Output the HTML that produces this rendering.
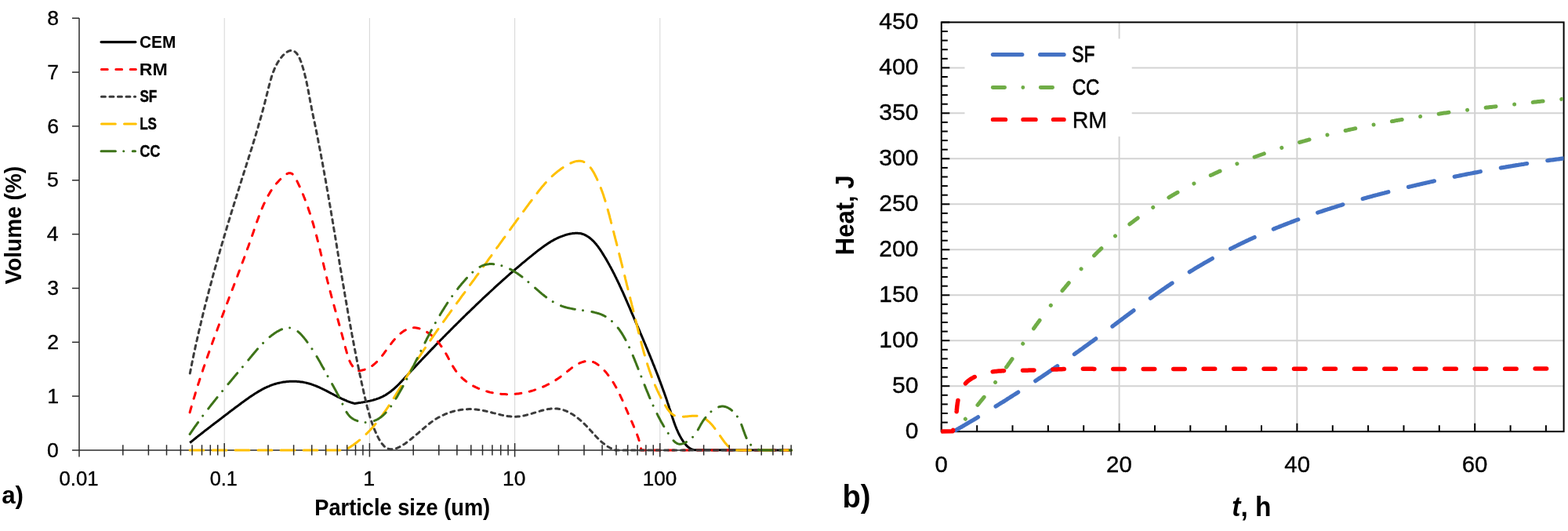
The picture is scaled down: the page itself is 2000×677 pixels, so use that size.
<!DOCTYPE html>
<html><head><meta charset="utf-8"><title>Particle size distribution and heat</title>
<style>
html,body{margin:0;padding:0;background:#fff;}
body{width:2000px;height:677px;overflow:hidden;}
svg{display:block;}
text{font-family:"Liberation Sans",Arial,sans-serif;fill:#000;}
.t1{font-size:23.5px;}
.t2{font-size:28.8px;}
.tb{font-weight:bold;}
</style></head>
<body>
<svg width="2000" height="677" viewBox="0 0 2000 677">
<rect x="0" y="0" width="2000" height="677" fill="#ffffff"/>
<g id="chart-a">
<line x1="286.2" y1="22.9" x2="286.2" y2="574.0" stroke="#d9d9d9" stroke-width="1.1"/>
<line x1="471.4" y1="22.9" x2="471.4" y2="574.0" stroke="#d9d9d9" stroke-width="1.1"/>
<line x1="656.6" y1="22.9" x2="656.6" y2="574.0" stroke="#d9d9d9" stroke-width="1.1"/>
<line x1="841.8" y1="22.9" x2="841.8" y2="574.0" stroke="#d9d9d9" stroke-width="1.1"/>
<line x1="101.0" y1="22.9" x2="101.0" y2="582.5" stroke="#2b2b2b" stroke-width="1.5"/>
<line x1="101.0" y1="574.0" x2="1009.5" y2="574.0" stroke="#2b2b2b" stroke-width="1.5"/>
<line x1="92" y1="574.0" x2="101.0" y2="574.0" stroke="#2b2b2b" stroke-width="1.5"/>
<line x1="92" y1="505.1" x2="101.0" y2="505.1" stroke="#2b2b2b" stroke-width="1.5"/>
<line x1="92" y1="436.3" x2="101.0" y2="436.3" stroke="#2b2b2b" stroke-width="1.5"/>
<line x1="92" y1="367.5" x2="101.0" y2="367.5" stroke="#2b2b2b" stroke-width="1.5"/>
<line x1="92" y1="298.6" x2="101.0" y2="298.6" stroke="#2b2b2b" stroke-width="1.5"/>
<line x1="92" y1="229.8" x2="101.0" y2="229.8" stroke="#2b2b2b" stroke-width="1.5"/>
<line x1="92" y1="160.9" x2="101.0" y2="160.9" stroke="#2b2b2b" stroke-width="1.5"/>
<line x1="92" y1="92.1" x2="101.0" y2="92.1" stroke="#2b2b2b" stroke-width="1.5"/>
<line x1="92" y1="23.2" x2="101.0" y2="23.2" stroke="#2b2b2b" stroke-width="1.5"/>
<path d="M242.2 564.5L243.4 563.5L244.6 562.6L245.8 561.6L247.0 560.7L248.2 559.7L249.4 558.8L250.5 557.8L251.7 556.9L252.9 555.9L254.1 555.0L255.3 554.1L256.5 553.1L257.7 552.2L258.9 551.3L260.0 550.4L261.2 549.4L262.4 548.5L263.6 547.6L264.8 546.7L266.0 545.8L267.2 544.9L268.4 544.0L269.5 543.0L270.7 542.1L271.9 541.2L273.1 540.3L274.3 539.4L275.5 538.5L276.7 537.6L277.9 536.7L279.1 535.8L280.2 534.9L281.4 534.0L282.6 533.1L283.8 532.1L285.0 531.2L286.2 530.3L287.4 529.4L288.6 528.5L289.8 527.6L291.0 526.7L292.2 525.7L293.4 524.8L294.6 523.9L295.8 523.0L297.1 522.1L298.3 521.2L299.5 520.2L300.7 519.3L301.9 518.4L303.2 517.5L304.4 516.6L305.6 515.7L306.9 514.7L308.1 513.8L309.3 512.9L310.6 512.0L311.8 511.1L313.1 510.2L314.3 509.3L315.6 508.4L316.9 507.5L318.1 506.6L319.4 505.7L320.7 504.9L322.0 504.0L323.3 503.2L324.6 502.3L325.9 501.5L327.2 500.7L328.5 499.9L329.8 499.1L331.1 498.3L332.5 497.6L333.8 496.8L335.1 496.1L336.5 495.4L337.9 494.7L339.2 494.1L340.6 493.4L342.0 492.8L343.3 492.3L344.7 491.7L346.1 491.2L347.5 490.7L348.9 490.2L350.4 489.7L351.8 489.3L353.2 488.9L354.6 488.5L356.1 488.2L357.5 487.9L359.0 487.6L360.4 487.3L361.9 487.1L363.3 486.9L364.8 486.7L366.2 486.5L367.7 486.4L369.2 486.3L370.6 486.2L372.1 486.2L373.6 486.2L375.0 486.2L376.5 486.2L378.0 486.3L379.4 486.4L380.9 486.5L382.4 486.7L383.8 486.9L385.3 487.1L386.8 487.3L388.2 487.6L389.7 487.9L391.1 488.2L392.6 488.6L394.0 489.0L395.4 489.4L396.9 489.8L398.3 490.3L399.7 490.8L401.1 491.4L402.6 491.9L404.0 492.5L405.4 493.1L406.8 493.7L408.2 494.3L409.6 495.0L411.0 495.7L412.4 496.3L413.8 497.0L415.1 497.7L416.5 498.4L417.9 499.1L419.3 499.8L420.7 500.6L422.1 501.3L423.4 502.0L424.8 502.7L426.2 503.5L427.6 504.2L428.9 504.9L430.3 505.6L431.7 506.3L433.1 506.9L434.5 507.6L435.8 508.3L437.2 508.9L438.6 509.5L440.0 510.1L441.4 510.7L442.7 511.3L444.1 511.8L445.5 512.3L446.9 512.8L448.3 513.3L449.7 513.7L451.1 514.1L452.5 514.5L453.9 514.3L455.4 514.1L456.8 513.8L458.3 513.6L459.8 513.4L461.3 513.1L462.8 512.9L464.3 512.6L465.8 512.3L467.3 512.1L468.8 511.8L470.3 511.4L471.8 511.1L473.3 510.7L474.8 510.4L476.3 510.0L477.8 509.5L479.3 509.1L480.7 508.6L482.1 508.1L483.6 507.6L485.0 507.0L486.3 506.4L487.7 505.8L489.0 505.1L490.3 504.4L491.6 503.7L492.9 502.9L494.1 502.1L495.3 501.3L496.5 500.4L497.7 499.6L498.9 498.7L500.0 497.7L501.2 496.8L502.3 495.8L503.4 494.8L504.5 493.8L505.6 492.8L506.7 491.8L507.8 490.7L508.8 489.7L509.9 488.6L510.9 487.5L512.0 486.4L513.0 485.3L514.0 484.2L515.1 483.1L516.1 482.0L517.1 480.9L518.1 479.8L519.2 478.7L520.2 477.6L521.2 476.5L522.2 475.4L523.3 474.2L524.3 473.1L525.3 472.0L526.4 470.9L527.4 469.8L528.4 468.7L529.5 467.6L530.5 466.5L531.5 465.4L532.6 464.3L533.6 463.2L534.6 462.1L535.7 461.0L536.7 459.9L537.7 458.8L538.8 457.7L539.8 456.6L540.9 455.5L541.9 454.4L542.9 453.3L544.0 452.3L545.0 451.2L546.1 450.1L547.1 449.0L548.2 447.9L549.2 446.8L550.2 445.7L551.3 444.6L552.3 443.6L553.4 442.5L554.4 441.4L555.5 440.3L556.5 439.2L557.6 438.2L558.6 437.1L559.7 436.0L560.7 434.9L561.8 433.8L562.8 432.8L563.9 431.7L565.0 430.6L566.0 429.5L567.1 428.5L568.1 427.4L569.2 426.3L570.2 425.3L571.3 424.2L572.4 423.1L573.4 422.1L574.5 421.0L575.5 419.9L576.6 418.9L577.7 417.8L578.7 416.7L579.8 415.7L580.9 414.6L581.9 413.6L583.0 412.5L584.1 411.5L585.1 410.4L586.2 409.3L587.3 408.3L588.3 407.2L589.4 406.2L590.5 405.1L591.5 404.1L592.6 403.0L593.7 402.0L594.8 400.9L595.8 399.9L596.9 398.8L598.0 397.8L599.1 396.8L600.2 395.7L601.2 394.7L602.3 393.6L603.4 392.6L604.5 391.6L605.6 390.5L606.6 389.5L607.7 388.4L608.8 387.4L609.9 386.4L611.0 385.3L612.1 384.3L613.1 383.3L614.2 382.3L615.3 381.2L616.4 380.2L617.5 379.2L618.6 378.1L619.7 377.1L620.8 376.1L621.9 375.1L623.0 374.1L624.1 373.0L625.2 372.0L626.3 371.0L627.4 370.0L628.5 369.0L629.6 368.0L630.7 366.9L631.8 365.9L632.9 364.9L634.0 363.9L635.1 362.9L636.2 361.9L637.4 360.9L638.5 359.9L639.6 358.9L640.7 357.9L641.8 356.9L642.9 355.9L644.1 354.9L645.2 353.9L646.3 352.9L647.4 351.9L648.6 350.9L649.7 349.9L650.8 348.9L652.0 347.9L653.1 347.0L654.2 346.0L655.4 345.0L656.5 344.0L657.7 343.0L658.8 342.0L660.0 341.1L661.1 340.1L662.3 339.1L663.4 338.1L664.6 337.2L665.7 336.2L666.9 335.2L668.0 334.3L669.2 333.3L670.4 332.3L671.5 331.4L672.7 330.4L673.9 329.4L675.1 328.5L676.2 327.5L677.4 326.6L678.6 325.6L679.8 324.7L681.0 323.7L682.1 322.8L683.3 321.8L684.5 320.9L685.7 319.9L686.9 319.0L688.1 318.1L689.3 317.2L690.6 316.3L691.8 315.4L693.0 314.5L694.2 313.6L695.5 312.7L696.7 311.9L698.0 311.0L699.2 310.2L700.5 309.4L701.8 308.6L703.0 307.8L704.3 307.1L705.6 306.4L706.9 305.6L708.2 304.9L709.6 304.3L710.9 303.6L712.3 303.0L713.6 302.4L715.0 301.8L716.4 301.3L717.8 300.8L719.2 300.3L720.6 299.8L722.0 299.4L723.4 299.0L724.9 298.6L726.4 298.3L727.8 298.0L729.3 297.8L730.8 297.5L732.3 297.4L733.8 297.3L735.3 297.2L736.8 297.3L738.3 297.4L739.7 297.6L741.2 297.8L742.6 298.2L743.9 298.6L745.3 299.2L746.6 299.8L747.9 300.4L749.1 301.2L750.4 302.0L751.5 302.8L752.7 303.7L753.8 304.7L754.9 305.6L756.0 306.7L757.1 307.7L758.1 308.8L759.1 309.9L760.1 311.0L761.0 312.2L762.0 313.4L762.9 314.6L763.8 315.9L764.7 317.1L765.6 318.4L766.4 319.7L767.3 321.0L768.1 322.3L768.9 323.6L769.7 324.9L770.5 326.2L771.3 327.5L772.1 328.8L772.9 330.1L773.7 331.5L774.4 332.8L775.2 334.1L775.9 335.4L776.7 336.8L777.4 338.1L778.1 339.4L778.9 340.8L779.6 342.1L780.3 343.5L781.0 344.8L781.7 346.1L782.4 347.5L783.1 348.8L783.8 350.2L784.4 351.5L785.1 352.9L785.8 354.2L786.4 355.6L787.1 356.9L787.7 358.3L788.4 359.6L789.0 361.0L789.7 362.3L790.3 363.7L790.9 365.1L791.6 366.4L792.2 367.8L792.8 369.2L793.4 370.5L794.1 371.9L794.7 373.2L795.3 374.6L795.9 376.0L796.5 377.3L797.1 378.7L797.7 380.1L798.3 381.5L798.9 382.8L799.5 384.2L800.1 385.6L800.7 386.9L801.3 388.3L801.9 389.7L802.5 391.1L803.1 392.4L803.7 393.8L804.2 395.2L804.8 396.5L805.4 397.9L806.0 399.3L806.6 400.7L807.2 402.0L807.8 403.4L808.4 404.8L809.0 406.2L809.6 407.5L810.2 408.9L810.7 410.3L811.3 411.7L811.9 413.0L812.5 414.4L813.1 415.8L813.7 417.2L814.3 418.6L814.9 419.9L815.5 421.3L816.1 422.7L816.6 424.1L817.2 425.5L817.8 426.8L818.4 428.2L819.0 429.6L819.6 431.0L820.2 432.4L820.7 433.7L821.3 435.1L821.9 436.5L822.5 437.9L823.1 439.3L823.7 440.7L824.2 442.0L824.8 443.4L825.4 444.8L826.0 446.2L826.5 447.6L827.1 449.0L827.7 450.4L828.3 451.8L828.8 453.2L829.4 454.5L830.0 455.9L830.5 457.3L831.1 458.7L831.7 460.1L832.2 461.5L832.8 462.9L833.3 464.3L833.9 465.7L834.5 467.1L835.0 468.5L835.6 469.9L836.1 471.3L836.7 472.7L837.2 474.1L837.8 475.5L838.3 476.9L838.9 478.3L839.4 479.8L839.9 481.2L840.5 482.6L841.0 484.0L841.5 485.4L842.1 486.8L842.6 488.2L843.1 489.6L843.7 491.1L844.2 492.5L844.7 493.9L845.2 495.3L845.7 496.7L846.2 498.2L846.8 499.6L847.3 501.0L847.8 502.4L848.3 503.9L848.8 505.3L849.3 506.7L849.8 508.1L850.3 509.6L850.8 511.0L851.2 512.4L851.7 513.9L852.2 515.3L852.7 516.8L853.2 518.2L853.6 519.6L854.1 521.1L854.6 522.5L855.1 524.0L855.5 525.4L856.0 526.9L856.4 528.3L856.9 529.8L857.4 531.2L857.8 532.7L858.3 534.1L858.8 535.5L859.3 537.0L859.8 538.4L860.3 539.8L860.8 541.2L861.3 542.6L861.9 544.0L862.4 545.4L863.0 546.8L863.6 548.1L864.2 549.5L864.8 550.9L865.4 552.2L866.1 553.5L866.7 554.8L867.4 556.1L868.1 557.4L868.9 558.7L869.6 559.9L870.4 561.2L871.2 562.4L872.1 563.6L873.0 564.8L873.9 565.9L874.8 567.1L875.8 568.1L876.8 569.1L877.9 570.1L879.1 570.9L880.3 571.7L881.6 572.4L882.9 572.9L884.4 573.4L885.9 573.7L887.6 573.8L889.3 573.8L1009.5 574.0" fill="none" stroke="#000000" stroke-width="3.0" stroke-linecap="butt" stroke-linejoin="round"/>
<path d="M242.1 525.9L242.5 524.4L242.9 523.0L243.3 521.5L243.7 520.0L244.2 518.5L244.6 517.1L245.0 515.6L245.4 514.2L245.9 512.7L246.3 511.2L246.7 509.8L247.1 508.3L247.6 506.9L248.0 505.4L248.5 504.0L248.9 502.5L249.3 501.1L249.8 499.6L250.2 498.2L250.7 496.7L251.1 495.3L251.6 493.8L252.0 492.4L252.5 491.0L252.9 489.5L253.4 488.1L253.9 486.7L254.3 485.2L254.8 483.8L255.2 482.4L255.7 480.9L256.2 479.5L256.7 478.1L257.1 476.6L257.6 475.2L258.1 473.8L258.6 472.4L259.0 470.9L259.5 469.5L260.0 468.1L260.5 466.7L261.0 465.2L261.4 463.8L261.9 462.4L262.4 461.0L262.9 459.6L263.4 458.2L263.9 456.7L264.4 455.3L264.9 453.9L265.4 452.5L265.9 451.1L266.4 449.7L266.9 448.3L267.4 446.9L267.9 445.5L268.4 444.1L268.9 442.6L269.4 441.2L269.9 439.8L270.4 438.4L270.9 437.0L271.4 435.6L271.9 434.2L272.4 432.8L272.9 431.4L273.5 430.0L274.0 428.6L274.5 427.2L275.0 425.8L275.5 424.4L276.0 423.0L276.6 421.6L277.1 420.2L277.6 418.8L278.1 417.4L278.6 416.0L279.2 414.6L279.7 413.2L280.2 411.8L280.7 410.4L281.2 409.0L281.8 407.6L282.3 406.2L282.8 404.8L283.3 403.4L283.9 402.0L284.4 400.6L284.9 399.2L285.5 397.8L286.0 396.4L286.5 395.0L287.0 393.6L287.6 392.2L288.1 390.8L288.6 389.4L289.2 388.0L289.7 386.6L290.2 385.2L290.7 383.8L291.3 382.4L291.8 381.0L292.3 379.6L292.9 378.2L293.4 376.8L293.9 375.4L294.5 374.0L295.0 372.6L295.5 371.2L296.1 369.8L296.6 368.4L297.1 367.0L297.7 365.6L298.2 364.2L298.7 362.8L299.2 361.4L299.8 360.0L300.3 358.6L300.8 357.2L301.4 355.8L301.9 354.4L302.4 353.0L303.0 351.5L303.5 350.1L304.0 348.7L304.5 347.3L305.1 345.9L305.6 344.5L306.1 343.1L306.7 341.7L307.2 340.2L307.7 338.8L308.2 337.4L308.8 336.0L309.3 334.6L309.8 333.2L310.3 331.7L310.9 330.3L311.4 328.9L311.9 327.5L312.4 326.0L312.9 324.6L313.5 323.2L314.0 321.8L314.5 320.3L315.0 318.9L315.5 317.5L316.0 316.0L316.6 314.6L317.1 313.2L317.6 311.7L318.1 310.3L318.6 308.9L319.1 307.4L319.6 306.0L320.1 304.6L320.7 303.1L321.2 301.7L321.7 300.2L322.2 298.8L322.7 297.3L323.2 295.9L323.7 294.4L324.2 293.0L324.7 291.5L325.2 290.1L325.7 288.6L326.2 287.2L326.7 285.7L327.2 284.3L327.7 282.8L328.2 281.4L328.7 279.9L329.3 278.5L329.8 277.0L330.3 275.6L330.8 274.2L331.4 272.7L331.9 271.3L332.5 269.9L333.1 268.5L333.6 267.1L334.2 265.7L334.8 264.3L335.4 262.9L336.0 261.5L336.6 260.1L337.3 258.8L337.9 257.4L338.6 256.1L339.2 254.7L339.9 253.4L340.6 252.1L341.3 250.7L342.0 249.4L342.8 248.2L343.5 246.9L344.3 245.6L345.0 244.3L345.8 243.1L346.7 241.9L347.5 240.7L348.3 239.4L349.2 238.3L350.1 237.1L351.0 235.9L351.9 234.8L352.9 233.6L353.9 232.5L354.9 231.4L355.9 230.3L356.9 229.3L358.0 228.2L359.0 227.2L360.2 226.1L361.3 225.1L362.4 224.2L363.6 223.2L364.8 222.4L366.0 221.7L367.2 221.1L368.3 220.8L369.5 220.7L370.6 220.8L371.6 221.1L372.7 221.6L373.6 222.4L374.5 223.3L375.3 224.4L376.1 225.6L376.9 227.0L377.6 228.4L378.3 229.8L379.0 231.2L379.7 232.6L380.3 234.0L381.0 235.4L381.7 236.8L382.3 238.2L382.9 239.6L383.6 241.1L384.2 242.5L384.8 243.9L385.4 245.3L386.0 246.7L386.6 248.2L387.2 249.6L387.7 251.0L388.3 252.4L388.9 253.9L389.4 255.3L389.9 256.7L390.5 258.2L391.0 259.6L391.5 261.0L392.0 262.5L392.6 263.9L393.1 265.3L393.5 266.8L394.0 268.2L394.5 269.6L395.0 271.1L395.5 272.5L395.9 274.0L396.4 275.4L396.8 276.9L397.3 278.3L397.7 279.7L398.2 281.2L398.6 282.6L399.0 284.1L399.5 285.5L399.9 287.0L400.3 288.4L400.7 289.9L401.1 291.3L401.5 292.8L401.9 294.2L402.3 295.7L402.7 297.1L403.1 298.6L403.5 300.0L403.9 301.5L404.3 302.9L404.6 304.4L405.0 305.9L405.4 307.3L405.8 308.8L406.1 310.2L406.5 311.7L406.8 313.1L407.2 314.6L407.6 316.0L407.9 317.5L408.3 319.0L408.6 320.4L409.0 321.9L409.3 323.3L409.7 324.8L410.0 326.2L410.4 327.7L410.7 329.2L411.1 330.6L411.4 332.1L411.8 333.5L412.1 335.0L412.5 336.4L412.8 337.9L413.2 339.4L413.5 340.8L413.9 342.3L414.2 343.7L414.5 345.2L414.9 346.6L415.2 348.1L415.6 349.6L416.0 351.0L416.3 352.5L416.7 353.9L417.0 355.4L417.4 356.8L417.7 358.3L418.1 359.7L418.5 361.2L418.8 362.7L419.2 364.1L419.6 365.6L420.0 367.0L420.3 368.5L420.7 369.9L421.1 371.4L421.5 372.8L421.9 374.3L422.2 375.7L422.6 377.2L423.0 378.6L423.4 380.1L423.8 381.5L424.2 383.0L424.6 384.4L425.0 385.9L425.4 387.3L425.8 388.8L426.2 390.2L426.6 391.7L427.0 393.1L427.4 394.6L427.8 396.0L428.2 397.5L428.6 398.9L429.0 400.4L429.4 401.8L429.8 403.3L430.2 404.8L430.6 406.2L431.0 407.7L431.4 409.1L431.8 410.6L432.2 412.0L432.6 413.5L433.0 414.9L433.4 416.4L433.8 417.9L434.2 419.3L434.6 420.8L435.0 422.2L435.4 423.7L435.8 425.2L436.2 426.6L436.6 428.1L437.0 429.6L437.4 431.0L437.8 432.5L438.2 434.0L438.6 435.4L439.0 436.9L439.4 438.4L439.8 439.8L440.1 441.3L440.5 442.8L440.9 444.3L441.3 445.7L441.7 447.2L442.1 448.7L442.5 450.1L442.9 451.6L443.3 453.0L443.8 454.5L444.2 455.9L444.7 457.3L445.3 458.7L445.8 460.0L446.5 461.4L447.1 462.7L447.8 464.0L448.6 465.2L449.4 466.4L450.2 467.6L451.1 468.8L452.1 469.9L453.2 471.0L454.3 472.0L455.5 473.0L457.2 472.8L458.9 472.6L460.5 472.4L462.1 472.0L463.6 471.6L465.1 471.2L466.5 470.7L467.9 470.1L469.3 469.5L470.6 468.9L471.8 468.2L473.0 467.5L474.2 466.7L475.4 465.9L476.5 465.0L477.6 464.1L478.7 463.2L479.7 462.2L480.8 461.2L481.8 460.2L482.8 459.1L483.7 458.0L484.7 456.9L485.6 455.8L486.6 454.6L487.5 453.5L488.4 452.3L489.3 451.1L490.2 449.9L491.1 448.6L492.0 447.4L492.9 446.1L493.8 444.9L494.7 443.6L495.7 442.4L496.6 441.1L497.5 439.8L498.5 438.6L499.5 437.3L500.4 436.1L501.5 434.8L502.5 433.6L503.5 432.4L504.6 431.2L505.7 430.1L506.8 428.9L507.9 427.8L509.0 426.8L510.1 425.7L511.3 424.8L512.5 423.8L513.7 423.0L514.9 422.1L516.1 421.4L517.4 420.7L518.6 420.0L519.9 419.5L521.2 419.0L522.5 418.6L523.8 418.2L525.2 418.0L526.5 417.8L527.9 417.8L529.3 417.8L530.7 417.9L532.1 418.2L533.5 418.5L534.9 418.9L536.3 419.3L537.7 419.8L539.1 420.4L540.5 421.1L541.8 421.8L543.2 422.5L544.4 423.3L545.7 424.1L547.0 424.9L548.2 425.8L549.4 426.8L550.5 427.7L551.7 428.7L552.8 429.8L553.9 430.8L555.0 431.9L556.1 433.0L557.1 434.2L558.1 435.4L559.1 436.5L560.1 437.8L561.1 439.0L562.0 440.3L562.9 441.5L563.8 442.8L564.7 444.1L565.5 445.4L566.4 446.8L567.2 448.1L568.0 449.5L568.8 450.8L569.6 452.2L570.3 453.6L571.1 454.9L571.8 456.3L572.5 457.7L573.3 459.0L574.0 460.4L574.7 461.8L575.5 463.1L576.2 464.5L576.9 465.8L577.7 467.1L578.5 468.4L579.3 469.7L580.1 470.9L580.9 472.1L581.8 473.4L582.7 474.5L583.6 475.7L584.5 476.8L585.5 477.9L586.5 479.0L587.5 480.1L588.6 481.1L589.6 482.1L590.7 483.1L591.8 484.0L593.0 485.0L594.1 485.9L595.3 486.8L596.5 487.6L597.7 488.5L598.9 489.3L600.2 490.1L601.4 490.8L602.7 491.5L604.0 492.3L605.3 492.9L606.6 493.6L608.0 494.2L609.3 494.9L610.7 495.5L612.1 496.0L613.5 496.6L614.9 497.1L616.3 497.6L617.7 498.1L619.1 498.5L620.6 498.9L622.0 499.3L623.5 499.7L624.9 500.1L626.4 500.4L627.9 500.7L629.3 501.0L630.8 501.3L632.3 501.5L633.8 501.7L635.3 501.9L636.8 502.1L638.3 502.3L639.8 502.4L641.3 502.5L642.8 502.6L644.3 502.6L645.8 502.7L647.3 502.7L648.8 502.7L650.3 502.7L651.8 502.6L653.3 502.6L654.8 502.5L656.3 502.4L657.8 502.3L659.3 502.1L660.8 501.9L662.3 501.7L663.7 501.5L665.2 501.3L666.7 501.0L668.2 500.8L669.7 500.5L671.2 500.2L672.6 499.8L674.1 499.5L675.6 499.1L677.0 498.7L678.5 498.3L679.9 497.9L681.4 497.4L682.8 496.9L684.3 496.5L685.7 495.9L687.1 495.4L688.6 494.9L690.0 494.3L691.4 493.7L692.8 493.1L694.2 492.5L695.6 491.9L696.9 491.2L698.3 490.5L699.7 489.8L701.0 489.1L702.4 488.4L703.7 487.6L705.1 486.9L706.4 486.1L707.7 485.3L709.0 484.5L710.3 483.6L711.6 482.8L712.8 481.9L714.1 481.0L715.3 480.1L716.6 479.2L717.8 478.3L719.0 477.3L720.2 476.4L721.4 475.4L722.6 474.4L723.8 473.4L725.0 472.5L726.2 471.5L727.4 470.6L728.6 469.6L729.8 468.7L731.1 467.8L732.3 466.9L733.6 466.1L734.8 465.3L736.1 464.6L737.4 463.9L738.8 463.2L740.1 462.6L741.5 462.1L742.9 461.6L744.3 461.2L745.7 460.8L747.2 460.6L748.6 460.4L750.0 460.4L751.4 460.4L752.7 460.5L754.1 460.8L755.4 461.1L756.7 461.5L758.0 462.1L759.3 462.7L760.5 463.4L761.7 464.2L762.9 465.1L764.1 466.0L765.2 466.9L766.3 467.9L767.4 468.9L768.5 469.9L769.5 471.0L770.6 472.1L771.6 473.2L772.6 474.3L773.5 475.4L774.5 476.6L775.4 477.8L776.3 479.0L777.2 480.2L778.1 481.4L779.0 482.6L779.8 483.9L780.7 485.1L781.5 486.4L782.3 487.7L783.1 489.0L783.8 490.3L784.6 491.7L785.4 493.0L786.1 494.3L786.8 495.7L787.5 497.1L788.2 498.4L788.9 499.8L789.6 501.2L790.3 502.6L791.0 504.0L791.6 505.4L792.3 506.8L792.9 508.2L793.6 509.6L794.2 511.0L794.8 512.4L795.4 513.8L796.1 515.2L796.7 516.6L797.3 518.1L797.9 519.5L798.5 520.9L799.1 522.3L799.7 523.7L800.3 525.1L800.9 526.5L801.5 527.9L802.1 529.2L802.7 530.6L803.3 532.0L803.9 533.3L804.5 534.7L805.1 536.0L805.7 537.4L806.3 538.7L806.9 540.1L807.4 541.4L808.0 542.7L808.6 544.1L809.2 545.4L809.7 546.7L810.3 548.1L810.9 549.4L811.4 550.8L811.9 552.2L812.4 553.5L812.9 554.9L813.4 556.3L813.9 557.7L814.4 559.1L814.8 560.5L815.3 561.9L815.7 563.4L816.1 564.9L816.4 566.3L816.8 567.8L817.1 569.3L817.4 570.9L817.7 572.4L818.0 574.0L1009.5 574.0" fill="none" stroke="#ff0000" stroke-width="3.0" stroke-linecap="round" stroke-linejoin="round" stroke-dasharray="7.8 10.6"/>
<path d="M242.3 476.0L242.6 474.5L242.9 473.1L243.2 471.6L243.4 470.2L243.7 468.7L244.0 467.2L244.3 465.8L244.6 464.3L244.9 462.8L245.2 461.4L245.5 459.9L245.8 458.5L246.1 457.0L246.4 455.5L246.7 454.1L247.0 452.6L247.3 451.1L247.6 449.7L248.0 448.2L248.3 446.8L248.6 445.3L248.9 443.8L249.2 442.4L249.5 440.9L249.9 439.4L250.2 438.0L250.5 436.5L250.8 435.0L251.2 433.6L251.5 432.1L251.8 430.7L252.2 429.2L252.5 427.7L252.8 426.3L253.2 424.8L253.5 423.3L253.8 421.9L254.2 420.4L254.5 419.0L254.9 417.5L255.2 416.0L255.6 414.6L255.9 413.1L256.3 411.6L256.6 410.2L257.0 408.7L257.3 407.3L257.7 405.8L258.0 404.3L258.4 402.9L258.7 401.4L259.1 399.9L259.5 398.5L259.8 397.0L260.2 395.6L260.5 394.1L260.9 392.6L261.3 391.2L261.6 389.7L262.0 388.3L262.4 386.8L262.8 385.3L263.1 383.9L263.5 382.4L263.9 380.9L264.3 379.5L264.6 378.0L265.0 376.6L265.4 375.1L265.8 373.7L266.2 372.2L266.5 370.7L266.9 369.3L267.3 367.8L267.7 366.4L268.1 364.9L268.5 363.4L268.9 362.0L269.3 360.5L269.7 359.1L270.0 357.6L270.4 356.2L270.8 354.7L271.2 353.2L271.6 351.8L272.0 350.3L272.4 348.9L272.8 347.4L273.2 346.0L273.6 344.5L274.0 343.1L274.4 341.6L274.8 340.2L275.3 338.7L275.7 337.2L276.1 335.8L276.5 334.3L276.9 332.9L277.3 331.4L277.7 330.0L278.1 328.5L278.5 327.1L278.9 325.6L279.4 324.2L279.8 322.7L280.2 321.3L280.6 319.8L281.0 318.4L281.4 316.9L281.9 315.5L282.3 314.0L282.7 312.6L283.1 311.2L283.5 309.7L284.0 308.3L284.4 306.8L284.8 305.4L285.2 303.9L285.7 302.5L286.1 301.0L286.5 299.6L287.0 298.2L287.4 296.7L287.8 295.3L288.2 293.8L288.7 292.4L289.1 291.0L289.5 289.5L290.0 288.1L290.4 286.6L290.8 285.2L291.3 283.8L291.7 282.3L292.1 280.9L292.6 279.4L293.0 278.0L293.5 276.6L293.9 275.1L294.3 273.7L294.8 272.3L295.2 270.8L295.6 269.4L296.1 268.0L296.5 266.5L297.0 265.1L297.4 263.7L297.9 262.2L298.3 260.8L298.7 259.4L299.2 258.0L299.6 256.5L300.1 255.1L300.5 253.7L301.0 252.3L301.4 250.8L301.9 249.4L302.3 248.0L302.7 246.6L303.2 245.1L303.6 243.7L304.1 242.3L304.5 240.9L305.0 239.4L305.4 238.0L305.9 236.6L306.3 235.2L306.8 233.8L307.2 232.4L307.7 230.9L308.1 229.5L308.6 228.1L309.0 226.7L309.5 225.3L309.9 223.9L310.4 222.5L310.8 221.0L311.3 219.6L311.7 218.2L312.2 216.8L312.6 215.4L313.1 214.0L313.5 212.6L314.0 211.1L314.4 209.7L314.9 208.3L315.3 206.9L315.8 205.5L316.2 204.1L316.7 202.7L317.1 201.2L317.6 199.8L318.0 198.4L318.5 197.0L318.9 195.6L319.4 194.2L319.8 192.7L320.3 191.3L320.7 189.9L321.2 188.5L321.6 187.0L322.0 185.6L322.5 184.2L322.9 182.8L323.4 181.3L323.8 179.9L324.2 178.5L324.7 177.0L325.1 175.6L325.5 174.2L326.0 172.7L326.4 171.3L326.8 169.9L327.3 168.4L327.7 167.0L328.1 165.5L328.5 164.1L329.0 162.6L329.4 161.2L329.8 159.7L330.2 158.3L330.7 156.8L331.1 155.4L331.5 153.9L331.9 152.5L332.3 151.0L332.7 149.5L333.2 148.1L333.6 146.6L334.0 145.1L334.4 143.6L334.8 142.2L335.2 140.7L335.6 139.2L336.0 137.7L336.4 136.2L336.8 134.7L337.2 133.2L337.6 131.7L338.0 130.2L338.3 128.7L338.7 127.2L339.1 125.7L339.5 124.2L339.9 122.7L340.2 121.1L340.6 119.6L341.0 118.1L341.4 116.6L341.8 115.0L342.1 113.5L342.5 112.0L342.9 110.5L343.3 108.9L343.7 107.4L344.1 105.9L344.5 104.4L344.9 102.9L345.4 101.4L345.8 100.0L346.2 98.5L346.7 97.0L347.2 95.6L347.7 94.2L348.2 92.7L348.7 91.3L349.3 90.0L349.8 88.6L350.4 87.2L351.0 85.9L351.6 84.6L352.2 83.3L352.9 82.0L353.6 80.8L354.3 79.5L355.1 78.3L355.8 77.1L356.6 76.0L357.4 74.9L358.3 73.7L359.2 72.7L360.1 71.6L361.0 70.6L362.0 69.6L363.0 68.7L364.1 67.8L365.1 67.0L366.2 66.2L367.3 65.6L368.4 65.1L369.5 64.7L370.6 64.5L371.7 64.4L372.8 64.5L373.9 64.8L374.9 65.2L375.9 65.7L376.8 66.5L377.7 67.3L378.6 68.3L379.4 69.5L380.2 70.7L381.0 72.0L381.7 73.4L382.4 74.9L383.0 76.5L383.7 78.1L384.3 79.7L384.8 81.4L385.4 83.1L385.9 84.8L386.4 86.4L386.9 88.1L387.4 89.8L387.8 91.4L388.2 93.0L388.7 94.6L389.0 96.1L389.4 97.7L389.8 99.2L390.1 100.7L390.5 102.2L390.8 103.7L391.1 105.1L391.4 106.6L391.7 108.0L392.0 109.4L392.3 110.9L392.6 112.3L392.8 113.7L393.1 115.1L393.4 116.5L393.6 117.9L393.9 119.3L394.1 120.7L394.4 122.1L394.7 123.5L394.9 124.9L395.2 126.3L395.5 127.8L395.7 129.2L396.0 130.6L396.3 132.1L396.6 133.5L396.9 134.9L397.2 136.4L397.4 137.8L397.7 139.3L398.0 140.8L398.3 142.2L398.6 143.7L398.9 145.2L399.2 146.6L399.5 148.1L399.8 149.6L400.1 151.1L400.5 152.5L400.8 154.0L401.1 155.5L401.4 157.0L401.7 158.5L402.0 160.0L402.3 161.4L402.6 162.9L402.9 164.4L403.2 165.9L403.5 167.4L403.8 168.9L404.1 170.4L404.4 171.8L404.7 173.3L405.0 174.8L405.3 176.3L405.6 177.8L405.9 179.3L406.1 180.7L406.4 182.2L406.7 183.7L407.0 185.2L407.3 186.7L407.6 188.2L407.9 189.6L408.2 191.1L408.4 192.6L408.7 194.1L409.0 195.6L409.3 197.1L409.6 198.5L409.8 200.0L410.1 201.5L410.4 203.0L410.7 204.5L411.0 205.9L411.2 207.4L411.5 208.9L411.8 210.4L412.0 211.9L412.3 213.4L412.6 214.8L412.9 216.3L413.1 217.8L413.4 219.3L413.7 220.8L413.9 222.2L414.2 223.7L414.5 225.2L414.7 226.7L415.0 228.2L415.3 229.6L415.5 231.1L415.8 232.6L416.0 234.1L416.3 235.5L416.6 237.0L416.8 238.5L417.1 240.0L417.3 241.5L417.6 242.9L417.9 244.4L418.1 245.9L418.4 247.4L418.6 248.9L418.9 250.3L419.1 251.8L419.4 253.3L419.7 254.8L419.9 256.2L420.2 257.7L420.4 259.2L420.7 260.7L420.9 262.2L421.2 263.6L421.4 265.1L421.7 266.6L421.9 268.1L422.2 269.5L422.4 271.0L422.7 272.5L422.9 274.0L423.2 275.5L423.4 276.9L423.7 278.4L423.9 279.9L424.2 281.4L424.4 282.8L424.7 284.3L424.9 285.8L425.2 287.3L425.4 288.8L425.6 290.2L425.9 291.7L426.1 293.2L426.4 294.7L426.6 296.1L426.9 297.6L427.1 299.1L427.4 300.6L427.6 302.0L427.9 303.5L428.1 305.0L428.3 306.5L428.6 308.0L428.8 309.4L429.1 310.9L429.3 312.4L429.6 313.9L429.8 315.3L430.1 316.8L430.3 318.3L430.5 319.8L430.8 321.3L431.0 322.7L431.3 324.2L431.5 325.7L431.8 327.2L432.0 328.7L432.3 330.1L432.5 331.6L432.8 333.1L433.0 334.6L433.2 336.0L433.5 337.5L433.7 339.0L434.0 340.5L434.2 342.0L434.5 343.4L434.7 344.9L435.0 346.4L435.2 347.9L435.5 349.4L435.7 350.8L436.0 352.3L436.2 353.8L436.5 355.3L436.7 356.8L437.0 358.2L437.2 359.7L437.5 361.2L437.7 362.7L438.0 364.2L438.2 365.6L438.5 367.1L438.7 368.6L439.0 370.1L439.2 371.6L439.5 373.0L439.7 374.5L440.0 376.0L440.2 377.5L440.5 379.0L440.7 380.5L441.0 381.9L441.2 383.4L441.5 384.9L441.8 386.4L442.0 387.9L442.3 389.4L442.5 390.8L442.8 392.3L443.1 393.8L443.3 395.3L443.6 396.8L443.8 398.3L444.1 399.7L444.4 401.2L444.6 402.7L444.9 404.2L445.2 405.7L445.4 407.2L445.7 408.7L446.0 410.1L446.2 411.6L446.5 413.1L446.8 414.6L447.0 416.1L447.3 417.6L447.6 419.0L447.8 420.5L448.1 422.0L448.4 423.5L448.7 425.0L448.9 426.5L449.2 427.9L449.5 429.4L449.8 430.9L450.0 432.4L450.3 433.9L450.6 435.3L450.9 436.8L451.2 438.3L451.4 439.8L451.7 441.3L452.0 442.7L452.3 444.2L452.6 445.7L452.9 447.2L453.2 448.6L453.4 450.1L453.7 451.6L454.0 453.1L454.3 454.5L454.6 456.0L454.9 457.5L455.2 459.0L455.5 460.4L455.8 461.9L456.1 463.4L456.4 464.8L456.7 466.3L457.0 467.8L457.3 469.3L457.6 470.7L457.9 472.2L458.2 473.7L458.5 475.1L458.8 476.6L459.1 478.0L459.4 479.5L459.8 481.0L460.1 482.4L460.4 483.9L460.7 485.3L461.0 486.8L461.3 488.3L461.6 489.7L462.0 491.2L462.3 492.6L462.6 494.1L462.9 495.5L463.3 497.0L463.6 498.4L463.9 499.9L464.2 501.3L464.6 502.8L464.9 504.2L465.2 505.6L465.6 507.1L465.9 508.5L466.2 510.0L466.6 511.4L466.9 512.8L467.3 514.3L467.6 515.7L468.0 517.2L468.3 518.6L468.7 520.0L469.1 521.5L469.5 522.9L469.9 524.3L470.3 525.8L470.7 527.2L471.1 528.7L471.5 530.1L471.9 531.5L472.4 533.0L472.9 534.4L473.3 535.9L473.8 537.3L474.3 538.8L474.8 540.2L475.4 541.7L475.9 543.2L476.5 544.6L477.1 546.1L477.7 547.6L478.3 549.1L478.9 550.5L479.6 552.0L480.3 553.5L481.0 555.0L481.7 556.5L482.4 557.9L483.2 559.4L484.0 560.8L484.8 562.2L485.7 563.5L486.5 564.7L487.4 566.0L488.4 567.1L489.3 568.1L490.3 569.1L491.3 570.0L492.3 570.7L493.4 571.4L494.5 571.9L495.6 572.3L496.8 572.6L498.0 572.7L499.2 572.8L500.4 572.7L501.6 572.6L502.9 572.3L504.2 572.0L505.5 571.6L506.8 571.1L508.1 570.5L509.5 569.9L510.8 569.2L512.1 568.4L513.5 567.6L514.8 566.8L516.2 565.9L517.5 565.0L518.8 564.0L520.1 563.0L521.5 562.0L522.7 561.0L524.0 560.0L525.3 559.0L526.5 557.9L527.8 556.9L529.0 555.9L530.2 554.9L531.4 553.8L532.6 552.8L533.8 551.8L534.9 550.8L536.1 549.8L537.2 548.8L538.4 547.8L539.5 546.8L540.7 545.8L541.8 544.9L543.0 543.9L544.1 543.0L545.2 542.0L546.4 541.1L547.5 540.2L548.7 539.3L549.9 538.4L551.0 537.6L552.2 536.7L553.4 535.9L554.6 535.1L555.8 534.3L557.1 533.5L558.3 532.8L559.6 532.1L560.9 531.4L562.2 530.7L563.5 530.0L564.8 529.4L566.2 528.8L567.5 528.2L568.9 527.6L570.3 527.1L571.7 526.5L573.1 526.1L574.5 525.6L575.9 525.1L577.4 524.7L578.8 524.3L580.3 524.0L581.7 523.6L583.2 523.3L584.7 523.0L586.2 522.8L587.7 522.5L589.2 522.3L590.6 522.1L592.2 522.0L593.7 521.9L595.2 521.8L596.7 521.7L598.2 521.6L599.7 521.6L601.2 521.6L602.7 521.7L604.2 521.8L605.7 521.9L607.2 522.0L608.7 522.2L610.2 522.4L611.7 522.6L613.2 522.8L614.7 523.1L616.2 523.4L617.6 523.7L619.1 524.0L620.6 524.4L622.1 524.7L623.5 525.1L625.0 525.4L626.5 525.8L627.9 526.2L629.4 526.6L630.9 526.9L632.3 527.3L633.8 527.7L635.2 528.1L636.7 528.4L638.2 528.7L639.6 529.1L641.1 529.4L642.5 529.7L644.0 530.0L645.5 530.2L646.9 530.5L648.4 530.7L649.9 530.8L651.3 531.0L652.8 531.1L654.3 531.2L655.7 531.2L657.2 531.2L658.7 531.2L660.2 531.1L661.7 531.0L663.1 530.8L664.6 530.6L666.1 530.4L667.6 530.1L669.1 529.8L670.6 529.4L672.1 529.0L673.6 528.6L675.1 528.2L676.6 527.8L678.1 527.4L679.6 526.9L681.1 526.4L682.6 526.0L684.1 525.5L685.6 525.1L687.1 524.6L688.6 524.2L690.1 523.7L691.6 523.3L693.1 522.9L694.6 522.6L696.0 522.2L697.5 521.9L699.0 521.6L700.5 521.4L701.9 521.2L703.4 521.0L704.8 520.9L706.3 520.9L707.7 520.9L709.2 520.9L710.6 521.0L712.0 521.2L713.4 521.4L714.9 521.7L716.3 522.1L717.7 522.5L719.0 522.9L720.4 523.4L721.8 523.9L723.2 524.5L724.5 525.1L725.8 525.8L727.2 526.5L728.5 527.3L729.8 528.0L731.1 528.8L732.4 529.7L733.6 530.6L734.9 531.5L736.1 532.4L737.4 533.4L738.6 534.4L739.8 535.4L741.0 536.4L742.1 537.4L743.3 538.5L744.4 539.5L745.5 540.6L746.6 541.7L747.7 542.8L748.8 543.9L749.8 545.0L750.9 546.2L751.9 547.3L752.9 548.4L753.9 549.5L754.9 550.6L756.0 551.8L757.0 552.9L758.0 554.0L759.0 555.1L760.0 556.2L761.0 557.2L762.0 558.3L763.1 559.3L764.1 560.4L765.1 561.4L766.2 562.4L767.3 563.4L768.4 564.3L769.5 565.2L770.7 566.1L771.8 567.0L773.0 567.9L774.2 568.7L775.5 569.5L776.8 570.2L778.1 571.0L779.4 571.6L780.8 572.3L782.2 572.9L783.6 573.5L785.1 574.0L1009.5 574.0" fill="none" stroke="#3c3c3c" stroke-width="3.0" stroke-linecap="round" stroke-linejoin="round" stroke-dasharray="5 5.5"/>
<path d="M242.1 574.0L440.0 574.0L441.4 573.2L442.7 572.4L444.0 571.6L445.3 570.8L446.6 570.0L447.9 569.1L449.1 568.3L450.4 567.4L451.6 566.5L452.9 565.6L454.1 564.7L455.3 563.8L456.4 562.9L457.6 561.9L458.8 561.0L459.9 560.0L461.0 559.0L462.2 558.0L463.3 557.0L464.4 556.0L465.5 555.0L466.5 554.0L467.6 552.9L468.7 551.9L469.7 550.8L470.7 549.8L471.8 548.7L472.8 547.6L473.8 546.5L474.8 545.4L475.7 544.3L476.7 543.2L477.7 542.0L478.6 540.9L479.6 539.7L480.5 538.6L481.5 537.4L482.4 536.3L483.3 535.1L484.2 533.9L485.1 532.7L486.0 531.5L486.9 530.3L487.8 529.1L488.7 527.9L489.5 526.7L490.4 525.5L491.3 524.2L492.1 523.0L493.0 521.8L493.8 520.5L494.7 519.3L495.5 518.0L496.3 516.8L497.1 515.5L498.0 514.2L498.8 513.0L499.6 511.7L500.4 510.4L501.2 509.2L502.0 507.9L502.8 506.6L503.6 505.3L504.4 504.0L505.2 502.7L506.0 501.4L506.8 500.1L507.6 498.9L508.3 497.6L509.1 496.3L509.9 495.0L510.7 493.7L511.5 492.4L512.3 491.1L513.0 489.8L513.8 488.5L514.6 487.2L515.4 485.9L516.2 484.6L517.0 483.3L517.7 482.0L518.5 480.7L519.3 479.4L520.1 478.1L520.9 476.8L521.7 475.5L522.5 474.3L523.3 473.0L524.1 471.7L524.9 470.4L525.7 469.1L526.5 467.9L527.3 466.6L528.1 465.3L528.9 464.0L529.7 462.8L530.5 461.5L531.4 460.2L532.2 459.0L533.0 457.7L533.8 456.5L534.6 455.2L535.5 453.9L536.3 452.7L537.1 451.4L537.9 450.2L538.8 448.9L539.6 447.7L540.4 446.4L541.3 445.2L542.1 443.9L542.9 442.7L543.8 441.4L544.6 440.2L545.5 439.0L546.3 437.7L547.2 436.5L548.0 435.2L548.9 434.0L549.7 432.8L550.6 431.5L551.4 430.3L552.3 429.1L553.1 427.8L554.0 426.6L554.8 425.4L555.7 424.2L556.6 422.9L557.4 421.7L558.3 420.5L559.1 419.3L560.0 418.0L560.9 416.8L561.7 415.6L562.6 414.4L563.5 413.1L564.3 411.9L565.2 410.7L566.1 409.5L566.9 408.3L567.8 407.1L568.7 405.8L569.6 404.6L570.4 403.4L571.3 402.2L572.2 401.0L573.1 399.8L573.9 398.5L574.8 397.3L575.7 396.1L576.6 394.9L577.4 393.7L578.3 392.5L579.2 391.3L580.1 390.1L581.0 388.8L581.9 387.6L582.7 386.4L583.6 385.2L584.5 384.0L585.4 382.8L586.3 381.6L587.2 380.4L588.0 379.2L588.9 377.9L589.8 376.7L590.7 375.5L591.6 374.3L592.5 373.1L593.3 371.9L594.2 370.7L595.1 369.5L596.0 368.2L596.9 367.0L597.8 365.8L598.7 364.6L599.5 363.4L600.4 362.2L601.3 361.0L602.2 359.7L603.1 358.5L604.0 357.3L604.9 356.1L605.8 354.9L606.6 353.7L607.5 352.4L608.4 351.2L609.3 350.0L610.2 348.8L611.1 347.6L611.9 346.3L612.8 345.1L613.7 343.9L614.6 342.7L615.5 341.5L616.4 340.2L617.2 339.0L618.1 337.8L619.0 336.6L619.9 335.3L620.8 334.1L621.7 332.9L622.5 331.7L623.4 330.4L624.3 329.2L625.2 328.0L626.1 326.8L627.0 325.5L627.8 324.3L628.7 323.1L629.6 321.9L630.5 320.6L631.4 319.4L632.2 318.2L633.1 316.9L634.0 315.7L634.9 314.5L635.8 313.3L636.7 312.0L637.5 310.8L638.4 309.6L639.3 308.4L640.2 307.1L641.1 305.9L641.9 304.7L642.8 303.5L643.7 302.3L644.6 301.0L645.5 299.8L646.4 298.6L647.2 297.4L648.1 296.1L649.0 294.9L649.9 293.7L650.8 292.5L651.7 291.3L652.5 290.0L653.4 288.8L654.3 287.6L655.2 286.4L656.1 285.2L657.0 284.0L657.9 282.8L658.7 281.5L659.6 280.3L660.5 279.1L661.4 277.9L662.3 276.7L663.2 275.5L664.1 274.3L664.9 273.1L665.8 271.9L666.7 270.7L667.6 269.5L668.5 268.3L669.4 267.1L670.3 265.9L671.2 264.7L672.0 263.5L672.9 262.3L673.8 261.1L674.7 259.9L675.6 258.7L676.5 257.5L677.4 256.3L678.3 255.1L679.2 253.9L680.1 252.7L681.0 251.6L681.9 250.4L682.8 249.2L683.7 248.0L684.6 246.8L685.5 245.7L686.4 244.5L687.3 243.3L688.2 242.2L689.2 241.0L690.1 239.9L691.0 238.7L692.0 237.6L693.0 236.5L693.9 235.3L694.9 234.2L695.9 233.1L696.9 232.0L698.0 230.9L699.0 229.8L700.1 228.7L701.1 227.7L702.2 226.6L703.3 225.5L704.4 224.5L705.6 223.4L706.7 222.4L707.9 221.4L709.1 220.4L710.3 219.4L711.5 218.4L712.8 217.4L714.1 216.5L715.4 215.5L716.7 214.6L718.0 213.7L719.4 212.8L720.8 211.9L722.2 211.0L723.6 210.2L725.1 209.4L726.5 208.7L727.9 208.0L729.4 207.4L730.8 206.9L732.2 206.4L733.6 205.9L735.0 205.6L736.4 205.4L737.7 205.2L739.0 205.2L740.3 205.2L741.6 205.4L742.8 205.7L744.0 206.1L745.1 206.6L746.2 207.1L747.3 207.8L748.3 208.6L749.3 209.4L750.3 210.4L751.3 211.3L752.2 212.4L753.1 213.5L753.9 214.7L754.8 215.9L755.6 217.2L756.4 218.5L757.2 219.8L758.0 221.2L758.7 222.6L759.4 224.0L760.1 225.4L760.8 226.8L761.5 228.2L762.1 229.7L762.8 231.1L763.4 232.5L764.0 233.9L764.6 235.4L765.2 236.8L765.8 238.2L766.3 239.7L766.9 241.1L767.4 242.6L768.0 244.0L768.5 245.4L769.0 246.9L769.5 248.3L770.0 249.8L770.4 251.2L770.9 252.7L771.4 254.1L771.8 255.6L772.3 257.0L772.7 258.5L773.1 259.9L773.6 261.4L774.0 262.8L774.4 264.3L774.8 265.7L775.2 267.2L775.6 268.6L776.0 270.1L776.4 271.5L776.8 273.0L777.2 274.4L777.6 275.9L777.9 277.3L778.3 278.8L778.7 280.2L779.1 281.7L779.4 283.1L779.8 284.6L780.2 286.0L780.6 287.5L780.9 288.9L781.3 290.4L781.7 291.8L782.1 293.3L782.4 294.7L782.8 296.2L783.2 297.6L783.5 299.1L783.9 300.5L784.3 302.0L784.6 303.4L785.0 304.9L785.4 306.3L785.8 307.8L786.1 309.2L786.5 310.7L786.9 312.1L787.2 313.6L787.6 315.0L788.0 316.5L788.3 317.9L788.7 319.4L789.1 320.8L789.4 322.3L789.8 323.7L790.1 325.2L790.5 326.6L790.9 328.1L791.2 329.5L791.6 331.0L792.0 332.4L792.3 333.9L792.7 335.3L793.1 336.8L793.4 338.2L793.8 339.7L794.1 341.1L794.5 342.6L794.9 344.0L795.2 345.5L795.6 346.9L795.9 348.4L796.3 349.8L796.7 351.3L797.0 352.7L797.4 354.2L797.7 355.6L798.1 357.1L798.5 358.5L798.8 360.0L799.2 361.4L799.5 362.9L799.9 364.3L800.3 365.8L800.6 367.2L801.0 368.7L801.3 370.2L801.7 371.6L802.1 373.1L802.4 374.5L802.8 376.0L803.1 377.4L803.5 378.9L803.9 380.4L804.2 381.8L804.6 383.3L804.9 384.7L805.3 386.2L805.7 387.7L806.0 389.1L806.4 390.6L806.8 392.1L807.1 393.5L807.5 395.0L807.8 396.5L808.2 397.9L808.6 399.4L808.9 400.9L809.3 402.3L809.6 403.8L810.0 405.3L810.4 406.7L810.7 408.2L811.1 409.7L811.5 411.2L811.8 412.6L812.2 414.1L812.6 415.6L812.9 417.1L813.3 418.5L813.6 420.0L814.0 421.5L814.4 423.0L814.7 424.4L815.1 425.9L815.5 427.4L815.9 428.9L816.2 430.4L816.6 431.8L817.0 433.3L817.4 434.8L817.8 436.3L818.1 437.7L818.5 439.2L818.9 440.7L819.3 442.2L819.7 443.6L820.1 445.1L820.5 446.6L820.9 448.0L821.3 449.5L821.7 451.0L822.2 452.4L822.6 453.9L823.0 455.4L823.4 456.8L823.9 458.3L824.3 459.7L824.8 461.2L825.2 462.6L825.7 464.1L826.1 465.5L826.6 466.9L827.1 468.4L827.5 469.8L828.0 471.2L828.5 472.7L829.0 474.1L829.5 475.5L830.0 476.9L830.5 478.3L831.0 479.8L831.6 481.2L832.1 482.6L832.6 484.0L833.2 485.4L833.7 486.8L834.3 488.1L834.9 489.5L835.4 490.9L836.0 492.3L836.6 493.6L837.2 495.0L837.8 496.4L838.4 497.7L839.1 499.1L839.7 500.4L840.3 501.7L841.0 503.1L841.7 504.4L842.3 505.7L843.0 507.0L843.7 508.3L844.4 509.7L845.1 511.0L845.8 512.2L846.6 513.5L847.3 514.8L848.1 516.1L848.8 517.3L849.6 518.6L850.4 519.9L851.2 521.1L852.0 522.3L852.9 523.4L853.8 524.6L854.7 525.6L855.7 526.6L856.7 527.5L857.7 528.3L858.9 529.0L860.0 529.7L861.3 530.2L862.6 530.6L864.0 530.9L865.4 531.1L866.8 531.2L868.3 531.3L869.8 531.3L871.4 531.2L873.0 531.2L874.6 531.0L876.2 530.9L877.8 530.7L879.4 530.6L881.0 530.4L882.6 530.3L884.2 530.2L885.8 530.2L887.3 530.2L888.8 530.3L890.3 530.5L891.7 530.8L893.1 531.1L894.5 531.5L895.8 532.1L897.0 532.6L898.3 533.3L899.5 534.0L900.7 534.8L901.8 535.6L902.9 536.6L904.0 537.5L905.1 538.5L906.1 539.6L907.2 540.6L908.2 541.8L909.2 542.9L910.1 544.1L911.1 545.3L912.0 546.6L913.0 547.8L913.9 549.1L914.8 550.4L915.7 551.7L916.6 553.0L917.5 554.3L918.4 555.6L919.3 556.9L920.2 558.2L921.1 559.5L922.0 560.7L922.9 562.0L923.8 563.2L924.7 564.4L925.7 565.5L926.6 566.6L927.6 567.7L928.6 568.7L929.7 569.7L930.7 570.5L931.9 571.3L933.1 572.0L934.3 572.7L935.6 573.2L937.0 573.6L938.5 573.8L940.0 574.0L1009.5 574.0" fill="none" stroke="#ffc000" stroke-width="3.0" stroke-linecap="round" stroke-linejoin="round" stroke-dasharray="17.8 11.2"/>
<path d="M242.1 553.6L242.9 552.4L243.8 551.1L244.6 549.9L245.5 548.6L246.3 547.4L247.2 546.2L248.0 544.9L248.9 543.7L249.8 542.5L250.6 541.3L251.5 540.0L252.4 538.8L253.3 537.6L254.1 536.4L255.0 535.2L255.9 534.0L256.8 532.8L257.7 531.6L258.6 530.3L259.5 529.1L260.4 527.9L261.3 526.7L262.2 525.5L263.2 524.3L264.1 523.2L265.0 522.0L265.9 520.8L266.8 519.6L267.8 518.4L268.7 517.2L269.6 516.0L270.6 514.8L271.5 513.7L272.4 512.5L273.4 511.3L274.3 510.1L275.3 508.9L276.2 507.8L277.1 506.6L278.1 505.4L279.0 504.3L280.0 503.1L280.9 501.9L281.9 500.8L282.9 499.6L283.8 498.4L284.8 497.3L285.7 496.1L286.7 494.9L287.6 493.8L288.6 492.6L289.6 491.4L290.5 490.3L291.5 489.1L292.5 488.0L293.4 486.8L294.4 485.7L295.4 484.5L296.3 483.4L297.3 482.2L298.3 481.0L299.2 479.9L300.2 478.7L301.2 477.6L302.1 476.4L303.1 475.3L304.1 474.1L305.0 473.0L306.0 471.8L306.9 470.7L307.9 469.5L308.9 468.4L309.8 467.2L310.8 466.1L311.8 464.9L312.7 463.8L313.7 462.7L314.6 461.5L315.6 460.4L316.6 459.2L317.5 458.1L318.5 456.9L319.4 455.8L320.4 454.6L321.3 453.5L322.3 452.3L323.2 451.2L324.2 450.0L325.1 448.9L326.1 447.8L327.1 446.6L328.0 445.5L329.0 444.4L330.0 443.3L331.0 442.1L332.0 441.0L333.0 439.9L334.1 438.9L335.1 437.8L336.2 436.7L337.2 435.6L338.3 434.6L339.4 433.6L340.6 432.5L341.7 431.5L342.9 430.5L344.1 429.5L345.3 428.6L346.5 427.6L347.8 426.7L349.1 425.8L350.4 424.8L351.7 424.0L353.1 423.1L354.4 422.3L355.8 421.6L357.2 420.8L358.6 420.2L360.0 419.6L361.4 419.1L362.8 418.7L364.2 418.3L365.6 418.1L367.0 417.9L368.3 417.9L369.7 418.0L371.0 418.1L372.3 418.5L373.6 418.9L374.8 419.4L376.0 420.0L377.3 420.7L378.5 421.5L379.6 422.4L380.8 423.4L381.9 424.4L383.0 425.4L384.1 426.5L385.2 427.7L386.2 428.9L387.3 430.1L388.3 431.4L389.3 432.6L390.3 433.9L391.2 435.2L392.2 436.5L393.1 437.7L394.0 439.0L394.9 440.3L395.8 441.6L396.7 442.9L397.5 444.1L398.4 445.4L399.2 446.7L400.0 448.0L400.8 449.3L401.6 450.6L402.4 451.8L403.2 453.1L403.9 454.4L404.7 455.7L405.5 457.0L406.2 458.3L406.9 459.5L407.7 460.8L408.4 462.1L409.1 463.4L409.8 464.7L410.5 466.0L411.2 467.3L412.0 468.5L412.7 469.8L413.4 471.1L414.1 472.4L414.8 473.7L415.5 475.0L416.2 476.3L416.9 477.6L417.6 478.9L418.3 480.2L419.0 481.5L419.7 482.7L420.5 484.0L421.2 485.3L421.9 486.6L422.6 487.9L423.4 489.2L424.1 490.5L424.8 491.8L425.6 493.1L426.3 494.5L427.0 495.8L427.8 497.1L428.5 498.4L429.2 499.8L429.9 501.1L430.6 502.4L431.4 503.8L432.1 505.1L432.8 506.5L433.4 507.9L434.1 509.3L434.8 510.7L435.5 512.1L436.1 513.5L436.8 514.9L437.4 516.3L438.1 517.7L438.8 519.2L439.4 520.6L440.1 522.0L440.8 523.3L441.6 524.7L442.3 526.0L443.2 527.2L444.0 528.4L445.0 529.6L446.0 530.7L447.0 531.7L448.2 532.6L449.4 533.5L450.6 534.3L451.9 535.0L453.3 535.7L454.7 536.2L456.1 536.8L457.6 537.2L459.1 537.6L460.6 537.9L462.1 538.1L463.7 538.3L465.2 538.4L466.7 538.4L468.2 538.4L469.7 538.3L471.2 538.1L472.7 537.9L474.1 537.6L475.5 537.2L476.9 536.7L478.2 536.2L479.5 535.7L480.8 535.0L482.0 534.4L483.3 533.6L484.5 532.8L485.6 532.0L486.8 531.1L487.9 530.2L489.0 529.3L490.0 528.3L491.1 527.2L492.1 526.1L493.1 525.0L494.1 523.9L495.1 522.7L496.0 521.5L497.0 520.3L497.9 519.0L498.8 517.8L499.7 516.5L500.5 515.2L501.4 513.9L502.3 512.6L503.1 511.2L503.9 509.9L504.7 508.6L505.6 507.2L506.4 505.9L507.2 504.5L507.9 503.2L508.7 501.8L509.5 500.5L510.3 499.1L511.0 497.8L511.8 496.5L512.5 495.1L513.3 493.8L514.0 492.4L514.8 491.1L515.5 489.8L516.2 488.4L516.9 487.1L517.6 485.7L518.3 484.4L519.0 483.0L519.7 481.7L520.4 480.4L521.1 479.0L521.8 477.7L522.5 476.3L523.2 475.0L523.9 473.7L524.5 472.3L525.2 471.0L525.9 469.7L526.5 468.3L527.2 467.0L527.9 465.6L528.5 464.3L529.2 463.0L529.8 461.6L530.5 460.3L531.2 459.0L531.8 457.6L532.5 456.3L533.1 455.0L533.8 453.6L534.4 452.3L535.1 451.0L535.7 449.6L536.4 448.3L537.0 447.0L537.7 445.6L538.4 444.3L539.0 443.0L539.7 441.6L540.3 440.3L541.0 439.0L541.7 437.7L542.3 436.3L543.0 435.0L543.7 433.7L544.3 432.3L545.0 431.0L545.7 429.7L546.4 428.4L547.1 427.0L547.8 425.7L548.5 424.4L549.2 423.1L549.9 421.7L550.6 420.4L551.3 419.1L552.0 417.8L552.7 416.5L553.4 415.1L554.1 413.8L554.9 412.5L555.6 411.2L556.3 409.9L557.1 408.6L557.8 407.3L558.6 406.0L559.3 404.7L560.1 403.4L560.9 402.1L561.6 400.8L562.4 399.5L563.2 398.2L564.0 396.9L564.8 395.6L565.6 394.4L566.4 393.1L567.2 391.8L568.0 390.5L568.8 389.3L569.6 388.0L570.4 386.7L571.3 385.5L572.1 384.2L573.0 383.0L573.8 381.8L574.7 380.5L575.6 379.3L576.4 378.0L577.3 376.8L578.2 375.6L579.1 374.4L580.0 373.2L580.9 372.0L581.8 370.8L582.7 369.6L583.7 368.4L584.6 367.2L585.5 366.0L586.5 364.8L587.5 363.7L588.4 362.5L589.4 361.3L590.4 360.2L591.4 359.0L592.4 357.9L593.4 356.7L594.4 355.6L595.4 354.5L596.4 353.4L597.5 352.3L598.5 351.2L599.6 350.1L600.7 349.0L601.8 348.0L602.9 347.0L604.0 346.0L605.1 345.1L606.3 344.1L607.4 343.3L608.6 342.4L609.8 341.6L611.1 340.9L612.3 340.2L613.6 339.5L614.9 338.9L616.2 338.4L617.5 337.9L618.9 337.5L620.3 337.2L621.7 336.9L623.2 336.8L624.7 336.6L626.2 336.6L627.7 336.6L629.3 336.7L630.9 336.9L632.4 337.1L634.0 337.4L635.5 337.7L637.0 338.0L638.5 338.4L640.0 338.8L641.5 339.3L642.9 339.8L644.3 340.3L645.7 340.9L647.1 341.5L648.5 342.1L649.8 342.7L651.2 343.4L652.5 344.1L653.8 344.8L655.1 345.6L656.4 346.4L657.7 347.2L658.9 348.0L660.2 348.8L661.4 349.7L662.7 350.6L663.9 351.5L665.1 352.4L666.3 353.3L667.5 354.3L668.7 355.2L669.9 356.2L671.0 357.1L672.2 358.1L673.4 359.1L674.5 360.1L675.7 361.1L676.8 362.1L678.0 363.1L679.1 364.1L680.3 365.2L681.4 366.2L682.6 367.2L683.7 368.2L684.9 369.2L686.0 370.2L687.2 371.2L688.3 372.2L689.5 373.1L690.6 374.1L691.8 375.1L693.0 376.0L694.2 377.0L695.3 377.9L696.5 378.8L697.7 379.7L698.9 380.5L700.2 381.4L701.4 382.2L702.6 383.1L703.9 383.9L705.1 384.6L706.4 385.4L707.7 386.1L709.0 386.8L710.3 387.5L711.6 388.1L712.9 388.7L714.3 389.3L715.6 389.8L717.0 390.4L718.4 390.8L719.8 391.3L721.3 391.7L722.7 392.1L724.2 392.5L725.6 392.8L727.1 393.1L728.6 393.4L730.1 393.7L731.6 394.0L733.1 394.2L734.6 394.5L736.2 394.7L737.7 394.9L739.2 395.1L740.7 395.3L742.2 395.5L743.8 395.8L745.3 396.0L746.8 396.2L748.3 396.4L749.8 396.6L751.3 396.9L752.8 397.1L754.2 397.4L755.7 397.7L757.1 398.0L758.6 398.4L760.0 398.7L761.4 399.1L762.8 399.5L764.1 399.9L765.5 400.4L766.8 400.9L768.1 401.5L769.4 402.0L770.6 402.7L771.9 403.3L773.1 404.0L774.3 404.7L775.4 405.5L776.6 406.3L777.7 407.2L778.8 408.1L779.8 409.0L780.9 409.9L781.9 410.9L782.9 411.9L783.9 412.9L784.9 414.0L785.9 415.1L786.8 416.2L787.7 417.3L788.6 418.5L789.5 419.7L790.4 420.9L791.2 422.1L792.1 423.4L792.9 424.6L793.7 425.9L794.5 427.2L795.3 428.5L796.0 429.9L796.8 431.2L797.5 432.6L798.3 434.0L799.0 435.3L799.7 436.7L800.4 438.1L801.1 439.6L801.8 441.0L802.4 442.4L803.1 443.8L803.7 445.3L804.4 446.7L805.0 448.2L805.6 449.6L806.2 451.0L806.9 452.5L807.5 453.9L808.1 455.4L808.7 456.8L809.3 458.2L809.8 459.7L810.4 461.1L811.0 462.5L811.6 464.0L812.1 465.4L812.7 466.8L813.3 468.2L813.8 469.6L814.4 471.1L815.0 472.5L815.5 473.9L816.1 475.3L816.6 476.7L817.2 478.1L817.7 479.5L818.2 480.9L818.8 482.3L819.3 483.7L819.9 485.1L820.4 486.5L821.0 487.9L821.5 489.2L822.0 490.6L822.6 492.0L823.1 493.4L823.7 494.8L824.2 496.1L824.8 497.5L825.3 498.9L825.9 500.2L826.5 501.6L827.0 503.0L827.6 504.3L828.1 505.7L828.7 507.1L829.3 508.4L829.9 509.8L830.5 511.1L831.0 512.5L831.6 513.8L832.2 515.2L832.8 516.5L833.4 517.9L834.1 519.2L834.7 520.5L835.3 521.9L835.9 523.2L836.6 524.5L837.2 525.9L837.9 527.2L838.6 528.5L839.2 529.9L839.9 531.2L840.6 532.5L841.3 533.8L842.0 535.1L842.7 536.5L843.4 537.8L844.2 539.1L844.9 540.4L845.7 541.7L846.4 543.0L847.2 544.3L848.0 545.6L848.8 546.9L849.6 548.2L850.4 549.5L851.2 550.8L852.1 552.1L852.9 553.4L853.8 554.7L854.7 556.0L855.6 557.3L856.5 558.6L857.4 559.8L858.4 561.0L859.4 562.1L860.4 563.2L861.5 564.1L862.6 564.8L863.8 565.5L865.0 565.9L866.4 566.2L867.8 566.2L869.3 566.0L870.8 565.6L872.4 565.1L873.9 564.4L875.5 563.5L877.1 562.5L878.6 561.5L880.1 560.4L881.5 559.3L882.7 558.1L883.9 556.9L885.0 555.8L885.9 554.6L886.8 553.4L887.7 552.3L888.5 551.1L889.2 549.9L889.9 548.7L890.5 547.5L891.2 546.3L891.8 545.1L892.5 543.9L893.2 542.6L893.9 541.3L894.6 540.1L895.4 538.8L896.2 537.4L897.1 536.1L898.0 534.8L899.0 533.5L900.0 532.2L901.0 530.9L902.1 529.6L903.2 528.4L904.3 527.2L905.5 526.1L906.7 525.0L907.9 524.0L909.1 523.0L910.4 522.1L911.7 521.2L912.9 520.5L914.2 519.8L915.5 519.3L916.9 518.8L918.2 518.5L919.5 518.2L920.8 518.1L922.2 518.1L923.5 518.2L924.8 518.5L926.1 518.9L927.4 519.4L928.7 520.0L929.9 520.7L931.1 521.4L932.4 522.3L933.5 523.3L934.7 524.3L935.8 525.4L936.9 526.5L937.9 527.7L938.9 529.0L939.9 530.3L940.8 531.6L941.6 533.0L942.4 534.4L943.2 535.8L943.9 537.2L944.5 538.7L945.2 540.1L945.8 541.6L946.3 543.1L946.9 544.5L947.4 546.0L947.9 547.5L948.4 548.9L949.0 550.4L949.5 551.8L950.0 553.3L950.5 554.7L951.1 556.0L951.6 557.4L952.2 558.7L952.8 560.0L953.5 561.3L954.2 562.5L954.9 563.7L955.7 564.9L956.6 566.0L957.5 567.0L958.5 568.0L959.5 569.0L960.6 569.9L961.8 570.7L963.1 571.4L964.4 572.1L965.9 572.8L967.4 573.3L969.1 573.8L1009.5 574.0" fill="none" stroke="#3d7318" stroke-width="3.0" stroke-linecap="round" stroke-linejoin="round" stroke-dasharray="18.4 10.3 0.01 11.5"/>
<line x1="156.8" y1="567.2" x2="156.8" y2="580.5" stroke="#2b2b2b" stroke-width="1.5"/>
<line x1="189.4" y1="567.2" x2="189.4" y2="580.5" stroke="#2b2b2b" stroke-width="1.5"/>
<line x1="212.5" y1="567.2" x2="212.5" y2="580.5" stroke="#2b2b2b" stroke-width="1.5"/>
<line x1="230.4" y1="567.2" x2="230.4" y2="580.5" stroke="#2b2b2b" stroke-width="1.5"/>
<line x1="245.1" y1="567.2" x2="245.1" y2="580.5" stroke="#2b2b2b" stroke-width="1.5"/>
<line x1="257.5" y1="567.2" x2="257.5" y2="580.5" stroke="#2b2b2b" stroke-width="1.5"/>
<line x1="268.3" y1="567.2" x2="268.3" y2="580.5" stroke="#2b2b2b" stroke-width="1.5"/>
<line x1="277.7" y1="567.2" x2="277.7" y2="580.5" stroke="#2b2b2b" stroke-width="1.5"/>
<line x1="286.2" y1="565" x2="286.2" y2="582.5" stroke="#2b2b2b" stroke-width="1.5"/>
<line x1="342.0" y1="567.2" x2="342.0" y2="580.5" stroke="#2b2b2b" stroke-width="1.5"/>
<line x1="374.6" y1="567.2" x2="374.6" y2="580.5" stroke="#2b2b2b" stroke-width="1.5"/>
<line x1="397.7" y1="567.2" x2="397.7" y2="580.5" stroke="#2b2b2b" stroke-width="1.5"/>
<line x1="415.6" y1="567.2" x2="415.6" y2="580.5" stroke="#2b2b2b" stroke-width="1.5"/>
<line x1="430.3" y1="567.2" x2="430.3" y2="580.5" stroke="#2b2b2b" stroke-width="1.5"/>
<line x1="442.7" y1="567.2" x2="442.7" y2="580.5" stroke="#2b2b2b" stroke-width="1.5"/>
<line x1="453.5" y1="567.2" x2="453.5" y2="580.5" stroke="#2b2b2b" stroke-width="1.5"/>
<line x1="462.9" y1="567.2" x2="462.9" y2="580.5" stroke="#2b2b2b" stroke-width="1.5"/>
<line x1="471.4" y1="565" x2="471.4" y2="582.5" stroke="#2b2b2b" stroke-width="1.5"/>
<line x1="527.2" y1="567.2" x2="527.2" y2="580.5" stroke="#2b2b2b" stroke-width="1.5"/>
<line x1="559.8" y1="567.2" x2="559.8" y2="580.5" stroke="#2b2b2b" stroke-width="1.5"/>
<line x1="582.9" y1="567.2" x2="582.9" y2="580.5" stroke="#2b2b2b" stroke-width="1.5"/>
<line x1="600.8" y1="567.2" x2="600.8" y2="580.5" stroke="#2b2b2b" stroke-width="1.5"/>
<line x1="615.5" y1="567.2" x2="615.5" y2="580.5" stroke="#2b2b2b" stroke-width="1.5"/>
<line x1="627.9" y1="567.2" x2="627.9" y2="580.5" stroke="#2b2b2b" stroke-width="1.5"/>
<line x1="638.7" y1="567.2" x2="638.7" y2="580.5" stroke="#2b2b2b" stroke-width="1.5"/>
<line x1="648.1" y1="567.2" x2="648.1" y2="580.5" stroke="#2b2b2b" stroke-width="1.5"/>
<line x1="656.6" y1="565" x2="656.6" y2="582.5" stroke="#2b2b2b" stroke-width="1.5"/>
<line x1="712.4" y1="567.2" x2="712.4" y2="580.5" stroke="#2b2b2b" stroke-width="1.5"/>
<line x1="745.0" y1="567.2" x2="745.0" y2="580.5" stroke="#2b2b2b" stroke-width="1.5"/>
<line x1="768.1" y1="567.2" x2="768.1" y2="580.5" stroke="#2b2b2b" stroke-width="1.5"/>
<line x1="786.0" y1="567.2" x2="786.0" y2="580.5" stroke="#2b2b2b" stroke-width="1.5"/>
<line x1="800.7" y1="567.2" x2="800.7" y2="580.5" stroke="#2b2b2b" stroke-width="1.5"/>
<line x1="813.1" y1="567.2" x2="813.1" y2="580.5" stroke="#2b2b2b" stroke-width="1.5"/>
<line x1="823.9" y1="567.2" x2="823.9" y2="580.5" stroke="#2b2b2b" stroke-width="1.5"/>
<line x1="833.3" y1="567.2" x2="833.3" y2="580.5" stroke="#2b2b2b" stroke-width="1.5"/>
<line x1="841.8" y1="565" x2="841.8" y2="582.5" stroke="#2b2b2b" stroke-width="1.5"/>
<line x1="897.6" y1="567.2" x2="897.6" y2="580.5" stroke="#2b2b2b" stroke-width="1.5"/>
<line x1="930.2" y1="567.2" x2="930.2" y2="580.5" stroke="#2b2b2b" stroke-width="1.5"/>
<line x1="953.3" y1="567.2" x2="953.3" y2="580.5" stroke="#2b2b2b" stroke-width="1.5"/>
<line x1="971.2" y1="567.2" x2="971.2" y2="580.5" stroke="#2b2b2b" stroke-width="1.5"/>
<line x1="985.9" y1="567.2" x2="985.9" y2="580.5" stroke="#2b2b2b" stroke-width="1.5"/>
<line x1="998.3" y1="567.2" x2="998.3" y2="580.5" stroke="#2b2b2b" stroke-width="1.5"/>
<line x1="1009.1" y1="567.2" x2="1009.1" y2="580.5" stroke="#2b2b2b" stroke-width="1.5"/>
<text x="60.05" y="582.67" font-size="25.80" stroke="#000" stroke-width="0.35" textLength="14.78" lengthAdjust="spacingAndGlyphs">0</text>
<text x="60.31" y="513.82" font-size="25.80" stroke="#000" stroke-width="0.35" textLength="14.78" lengthAdjust="spacingAndGlyphs">1</text>
<text x="60.38" y="445.10" font-size="25.80" stroke="#000" stroke-width="0.35" textLength="14.78" lengthAdjust="spacingAndGlyphs">2</text>
<text x="60.18" y="376.12" font-size="25.80" stroke="#000" stroke-width="0.35" textLength="14.78" lengthAdjust="spacingAndGlyphs">3</text>
<text x="59.78" y="307.27" font-size="25.80" stroke="#000" stroke-width="0.35" textLength="14.78" lengthAdjust="spacingAndGlyphs">4</text>
<text x="60.11" y="238.29" font-size="25.80" stroke="#000" stroke-width="0.35" textLength="14.78" lengthAdjust="spacingAndGlyphs">5</text>
<text x="60.18" y="169.57" font-size="25.80" stroke="#000" stroke-width="0.35" textLength="14.78" lengthAdjust="spacingAndGlyphs">6</text>
<text x="60.38" y="100.72" font-size="25.80" stroke="#000" stroke-width="0.35" textLength="14.78" lengthAdjust="spacingAndGlyphs">7</text>
<text x="60.18" y="31.87" font-size="25.80" stroke="#000" stroke-width="0.35" textLength="14.78" lengthAdjust="spacingAndGlyphs">8</text>
<text x="75.47" y="618.80" font-size="25.80" stroke="#000" stroke-width="0.35" textLength="50.09" lengthAdjust="spacingAndGlyphs">0.01</text>
<text x="267.79" y="618.80" font-size="25.80" stroke="#000" stroke-width="0.35" textLength="35.12" lengthAdjust="spacingAndGlyphs">0.1</text>
<text x="463.29" y="618.80" font-size="25.80" stroke="#000" stroke-width="0.35" textLength="14.92" lengthAdjust="spacingAndGlyphs">1</text>
<text x="641.12" y="618.80" font-size="25.80" stroke="#000" stroke-width="0.35" textLength="29.33" lengthAdjust="spacingAndGlyphs">10</text>
<text x="819.84" y="618.80" font-size="25.80" stroke="#000" stroke-width="0.35" textLength="43.56" lengthAdjust="spacingAndGlyphs">100</text>
<text x="401.26" y="657.10" font-size="29.40" font-weight="bold" stroke="#000" stroke-width="0.06" textLength="223.91" lengthAdjust="spacingAndGlyphs">Particle size (um)</text>
<text transform="translate(27.20,362.41) rotate(-90)" x="0" y="0" font-size="29.00" font-weight="bold" textLength="150.53" lengthAdjust="spacingAndGlyphs">Volume (%)</text>
<text x="2.16" y="641.90" font-size="32.00" font-weight="bold" textLength="27.86" lengthAdjust="spacingAndGlyphs">a)</text>
<line x1="129" y1="53.6" x2="172.9" y2="53.6" stroke="#000000" stroke-width="3.1" stroke-linecap="round"/>
<text x="178.07" y="60.80" font-size="22.80" font-weight="bold" stroke="#000" stroke-width="0.09" textLength="46.23" lengthAdjust="spacingAndGlyphs">CEM</text>
<line x1="129.4" y1="88.6" x2="173.3" y2="88.6" stroke="#ff0000" stroke-width="3.0" stroke-linecap="round" stroke-dasharray="7.8 10.6"/>
<text x="177.74" y="95.80" font-size="22.80" font-weight="bold" textLength="35.92" lengthAdjust="spacingAndGlyphs">RM</text>
<line x1="129.4" y1="123.3" x2="172.6" y2="123.3" stroke="#3c3c3c" stroke-width="3.0" stroke-linecap="round" stroke-dasharray="5 5.5"/>
<text x="178.39" y="129.80" font-size="22.80" font-weight="bold" stroke="#000" stroke-width="0.49" textLength="21.92" lengthAdjust="spacingAndGlyphs">SF</text>
<line x1="129.5" y1="157.9" x2="173.3" y2="157.9" stroke="#ffc000" stroke-width="3.0" stroke-linecap="round" stroke-dasharray="17.8 11.2"/>
<text x="178.15" y="164.70" font-size="22.80" font-weight="bold" stroke="#000" stroke-width="0.50" textLength="21.84" lengthAdjust="spacingAndGlyphs">LS</text>
<line x1="129" y1="192.8" x2="172.5" y2="192.8" stroke="#3d7318" stroke-width="3.0" stroke-linecap="round" stroke-dasharray="18.4 10.3 0.01 11.5"/>
<text x="178.17" y="199.70" font-size="22.80" font-weight="bold" stroke="#000" stroke-width="0.37" textLength="26.42" lengthAdjust="spacingAndGlyphs">CC</text>
</g>
<g id="chart-b">
<line x1="1200.8" y1="492.2" x2="1994.6" y2="492.2" stroke="#d3d3d3" stroke-width="2"/>
<line x1="1200.8" y1="434.2" x2="1994.6" y2="434.2" stroke="#d3d3d3" stroke-width="2"/>
<line x1="1200.8" y1="376.3" x2="1994.6" y2="376.3" stroke="#d3d3d3" stroke-width="2"/>
<line x1="1200.8" y1="318.3" x2="1994.6" y2="318.3" stroke="#d3d3d3" stroke-width="2"/>
<line x1="1200.8" y1="260.3" x2="1994.6" y2="260.3" stroke="#d3d3d3" stroke-width="2"/>
<line x1="1200.8" y1="202.3" x2="1994.6" y2="202.3" stroke="#d3d3d3" stroke-width="2"/>
<line x1="1200.8" y1="144.3" x2="1994.6" y2="144.3" stroke="#d3d3d3" stroke-width="2"/>
<line x1="1200.8" y1="86.4" x2="1994.6" y2="86.4" stroke="#d3d3d3" stroke-width="2"/>
<line x1="1427.6" y1="28.4" x2="1427.6" y2="550.2" stroke="#d3d3d3" stroke-width="2"/>
<line x1="1654.4" y1="28.4" x2="1654.4" y2="550.2" stroke="#d3d3d3" stroke-width="2"/>
<line x1="1881.2" y1="28.4" x2="1881.2" y2="550.2" stroke="#d3d3d3" stroke-width="2"/>
<rect x="1230.5" y="49.4" width="213.2" height="124.7" fill="#ffffff"/>
<rect x="1200.8" y="28.4" width="793.8" height="521.8" fill="none" stroke="#000" stroke-width="2"/>
<line x1="1200.8" y1="550.2" x2="1211.3" y2="550.2" stroke="#000" stroke-width="2"/>
<line x1="1200.8" y1="538.6" x2="1208.8" y2="538.6" stroke="#000" stroke-width="2"/>
<line x1="1200.8" y1="527.0" x2="1208.8" y2="527.0" stroke="#000" stroke-width="2"/>
<line x1="1200.8" y1="515.4" x2="1208.8" y2="515.4" stroke="#000" stroke-width="2"/>
<line x1="1200.8" y1="503.8" x2="1208.8" y2="503.8" stroke="#000" stroke-width="2"/>
<line x1="1200.8" y1="492.2" x2="1211.3" y2="492.2" stroke="#000" stroke-width="2"/>
<line x1="1200.8" y1="480.6" x2="1208.8" y2="480.6" stroke="#000" stroke-width="2"/>
<line x1="1200.8" y1="469.0" x2="1208.8" y2="469.0" stroke="#000" stroke-width="2"/>
<line x1="1200.8" y1="457.4" x2="1208.8" y2="457.4" stroke="#000" stroke-width="2"/>
<line x1="1200.8" y1="445.8" x2="1208.8" y2="445.8" stroke="#000" stroke-width="2"/>
<line x1="1200.8" y1="434.2" x2="1211.3" y2="434.2" stroke="#000" stroke-width="2"/>
<line x1="1200.8" y1="422.6" x2="1208.8" y2="422.6" stroke="#000" stroke-width="2"/>
<line x1="1200.8" y1="411.0" x2="1208.8" y2="411.0" stroke="#000" stroke-width="2"/>
<line x1="1200.8" y1="399.5" x2="1208.8" y2="399.5" stroke="#000" stroke-width="2"/>
<line x1="1200.8" y1="387.9" x2="1208.8" y2="387.9" stroke="#000" stroke-width="2"/>
<line x1="1200.8" y1="376.3" x2="1211.3" y2="376.3" stroke="#000" stroke-width="2"/>
<line x1="1200.8" y1="364.7" x2="1208.8" y2="364.7" stroke="#000" stroke-width="2"/>
<line x1="1200.8" y1="353.1" x2="1208.8" y2="353.1" stroke="#000" stroke-width="2"/>
<line x1="1200.8" y1="341.5" x2="1208.8" y2="341.5" stroke="#000" stroke-width="2"/>
<line x1="1200.8" y1="329.9" x2="1208.8" y2="329.9" stroke="#000" stroke-width="2"/>
<line x1="1200.8" y1="318.3" x2="1211.3" y2="318.3" stroke="#000" stroke-width="2"/>
<line x1="1200.8" y1="306.7" x2="1208.8" y2="306.7" stroke="#000" stroke-width="2"/>
<line x1="1200.8" y1="295.1" x2="1208.8" y2="295.1" stroke="#000" stroke-width="2"/>
<line x1="1200.8" y1="283.5" x2="1208.8" y2="283.5" stroke="#000" stroke-width="2"/>
<line x1="1200.8" y1="271.9" x2="1208.8" y2="271.9" stroke="#000" stroke-width="2"/>
<line x1="1200.8" y1="260.3" x2="1211.3" y2="260.3" stroke="#000" stroke-width="2"/>
<line x1="1200.8" y1="248.7" x2="1208.8" y2="248.7" stroke="#000" stroke-width="2"/>
<line x1="1200.8" y1="237.1" x2="1208.8" y2="237.1" stroke="#000" stroke-width="2"/>
<line x1="1200.8" y1="225.5" x2="1208.8" y2="225.5" stroke="#000" stroke-width="2"/>
<line x1="1200.8" y1="213.9" x2="1208.8" y2="213.9" stroke="#000" stroke-width="2"/>
<line x1="1200.8" y1="202.3" x2="1211.3" y2="202.3" stroke="#000" stroke-width="2"/>
<line x1="1200.8" y1="190.7" x2="1208.8" y2="190.7" stroke="#000" stroke-width="2"/>
<line x1="1200.8" y1="179.1" x2="1208.8" y2="179.1" stroke="#000" stroke-width="2"/>
<line x1="1200.8" y1="167.5" x2="1208.8" y2="167.5" stroke="#000" stroke-width="2"/>
<line x1="1200.8" y1="155.9" x2="1208.8" y2="155.9" stroke="#000" stroke-width="2"/>
<line x1="1200.8" y1="144.3" x2="1211.3" y2="144.3" stroke="#000" stroke-width="2"/>
<line x1="1200.8" y1="132.7" x2="1208.8" y2="132.7" stroke="#000" stroke-width="2"/>
<line x1="1200.8" y1="121.1" x2="1208.8" y2="121.1" stroke="#000" stroke-width="2"/>
<line x1="1200.8" y1="109.6" x2="1208.8" y2="109.6" stroke="#000" stroke-width="2"/>
<line x1="1200.8" y1="98.0" x2="1208.8" y2="98.0" stroke="#000" stroke-width="2"/>
<line x1="1200.8" y1="86.4" x2="1211.3" y2="86.4" stroke="#000" stroke-width="2"/>
<line x1="1200.8" y1="74.8" x2="1208.8" y2="74.8" stroke="#000" stroke-width="2"/>
<line x1="1200.8" y1="63.2" x2="1208.8" y2="63.2" stroke="#000" stroke-width="2"/>
<line x1="1200.8" y1="51.6" x2="1208.8" y2="51.6" stroke="#000" stroke-width="2"/>
<line x1="1200.8" y1="40.0" x2="1208.8" y2="40.0" stroke="#000" stroke-width="2"/>
<line x1="1200.8" y1="28.4" x2="1211.3" y2="28.4" stroke="#000" stroke-width="2"/>
<line x1="1200.8" y1="550.2" x2="1200.8" y2="539.7" stroke="#000" stroke-width="2"/>
<line x1="1246.2" y1="550.2" x2="1246.2" y2="542.2" stroke="#000" stroke-width="2"/>
<line x1="1291.5" y1="550.2" x2="1291.5" y2="542.2" stroke="#000" stroke-width="2"/>
<line x1="1336.9" y1="550.2" x2="1336.9" y2="542.2" stroke="#000" stroke-width="2"/>
<line x1="1382.2" y1="550.2" x2="1382.2" y2="542.2" stroke="#000" stroke-width="2"/>
<line x1="1427.6" y1="550.2" x2="1427.6" y2="539.7" stroke="#000" stroke-width="2"/>
<line x1="1473.0" y1="550.2" x2="1473.0" y2="542.2" stroke="#000" stroke-width="2"/>
<line x1="1518.3" y1="550.2" x2="1518.3" y2="542.2" stroke="#000" stroke-width="2"/>
<line x1="1563.7" y1="550.2" x2="1563.7" y2="542.2" stroke="#000" stroke-width="2"/>
<line x1="1609.0" y1="550.2" x2="1609.0" y2="542.2" stroke="#000" stroke-width="2"/>
<line x1="1654.4" y1="550.2" x2="1654.4" y2="539.7" stroke="#000" stroke-width="2"/>
<line x1="1699.8" y1="550.2" x2="1699.8" y2="542.2" stroke="#000" stroke-width="2"/>
<line x1="1745.1" y1="550.2" x2="1745.1" y2="542.2" stroke="#000" stroke-width="2"/>
<line x1="1790.5" y1="550.2" x2="1790.5" y2="542.2" stroke="#000" stroke-width="2"/>
<line x1="1835.8" y1="550.2" x2="1835.8" y2="542.2" stroke="#000" stroke-width="2"/>
<line x1="1881.2" y1="550.2" x2="1881.2" y2="539.7" stroke="#000" stroke-width="2"/>
<line x1="1926.6" y1="550.2" x2="1926.6" y2="542.2" stroke="#000" stroke-width="2"/>
<line x1="1971.9" y1="550.2" x2="1971.9" y2="542.2" stroke="#000" stroke-width="2"/>
<clipPath id="rclip"><rect x="1200.2" y="24.4" width="794.4" height="529.8"/></clipPath>
<g clip-path="url(#rclip)">
<path d="M1219.3 548.4L1220.6 547.6L1221.9 546.9L1223.2 546.1L1224.5 545.4L1225.8 544.6L1227.1 543.9L1228.4 543.1L1229.7 542.4L1231.0 541.6L1232.3 540.8L1233.6 540.1L1234.9 539.3L1236.2 538.5L1237.5 537.8L1238.8 537.0L1240.1 536.2L1241.4 535.5L1242.7 534.7L1244.0 533.9L1245.3 533.2L1246.6 532.4L1247.9 531.6L1249.2 530.8L1250.5 530.1L1251.7 529.3L1253.0 528.5L1254.3 527.7L1255.6 527.0L1256.9 526.2L1258.2 525.4L1259.5 524.6L1260.7 523.8L1262.0 523.0L1263.3 522.3L1264.6 521.5L1265.9 520.7L1267.2 519.9L1268.4 519.1L1269.7 518.3L1271.0 517.5L1272.3 516.7L1273.6 515.9L1274.8 515.1L1276.1 514.3L1277.4 513.5L1278.7 512.8L1279.9 512.0L1281.2 511.2L1282.5 510.4L1283.8 509.6L1285.0 508.7L1286.3 507.9L1287.6 507.1L1288.8 506.3L1290.1 505.5L1291.4 504.7L1292.6 503.9L1293.9 503.1L1295.2 502.3L1296.4 501.5L1297.7 500.7L1299.0 499.8L1300.2 499.0L1301.5 498.2L1302.8 497.4L1304.0 496.6L1305.3 495.8L1306.5 494.9L1307.8 494.1L1309.1 493.3L1310.3 492.5L1311.6 491.7L1312.8 490.8L1314.1 490.0L1315.3 489.2L1316.6 488.4L1317.9 487.5L1319.1 486.7L1320.4 485.9L1321.6 485.0L1322.9 484.2L1324.1 483.4L1325.4 482.5L1326.6 481.7L1327.9 480.9L1329.1 480.0L1330.4 479.2L1331.6 478.3L1332.9 477.5L1334.1 476.7L1335.4 475.8L1336.6 475.0L1337.8 474.1L1339.1 473.3L1340.3 472.4L1341.6 471.6L1342.8 470.7L1344.1 469.9L1345.3 469.0L1346.5 468.2L1347.8 467.3L1349.0 466.5L1350.2 465.6L1351.5 464.8L1352.7 463.9L1354.0 463.1L1355.2 462.2L1356.4 461.4L1357.7 460.5L1358.9 459.6L1360.1 458.8L1361.4 457.9L1362.6 457.0L1363.8 456.2L1365.0 455.3L1366.3 454.4L1367.5 453.6L1368.7 452.7L1370.0 451.8L1371.2 451.0L1372.4 450.1L1373.6 449.2L1374.9 448.4L1376.1 447.5L1377.3 446.6L1378.5 445.7L1379.8 444.9L1381.0 444.0L1382.2 443.1L1383.4 442.2L1384.6 441.3L1385.9 440.5L1387.1 439.6L1388.3 438.7L1389.5 437.8L1390.7 436.9L1391.9 436.0L1393.2 435.2L1394.4 434.3L1395.6 433.4L1396.8 432.5L1398.0 431.6L1399.2 430.7L1400.4 429.8L1401.7 428.9L1402.9 428.0L1404.1 427.1L1405.3 426.2L1406.5 425.3L1407.7 424.4L1408.9 423.5L1410.1 422.6L1411.3 421.7L1412.5 420.8L1413.7 419.9L1414.9 419.0L1416.2 418.1L1417.4 417.2L1418.6 416.3L1419.8 415.4L1421.0 414.5L1422.2 413.6L1423.4 412.7L1424.6 411.8L1425.8 410.9L1427.0 410.0L1428.2 409.1L1429.4 408.2L1430.6 407.3L1431.8 406.4L1433.0 405.5L1434.2 404.6L1435.4 403.7L1436.6 402.8L1437.8 401.9L1439.1 401.0L1440.3 400.1L1441.5 399.2L1442.7 398.3L1443.9 397.4L1445.1 396.5L1446.3 395.6L1447.5 394.7L1448.7 393.8L1449.9 392.9L1451.1 392.1L1452.3 391.2L1453.6 390.3L1454.8 389.4L1456.0 388.5L1457.2 387.6L1458.4 386.7L1459.6 385.8L1460.8 384.9L1462.1 384.1L1463.3 383.2L1464.5 382.3L1465.7 381.4L1466.9 380.5L1468.2 379.7L1469.4 378.8L1470.6 377.9L1471.8 377.0L1473.0 376.2L1474.3 375.3L1475.5 374.4L1476.7 373.6L1478.0 372.7L1479.2 371.8L1480.4 371.0L1481.6 370.1L1482.9 369.3L1484.1 368.4L1485.4 367.6L1486.6 366.7L1487.8 365.9L1489.1 365.0L1490.3 364.2L1491.6 363.3L1492.8 362.5L1494.0 361.6L1495.3 360.8L1496.5 360.0L1497.8 359.2L1499.0 358.3L1500.3 357.5L1501.6 356.7L1502.8 355.9L1504.1 355.0L1505.3 354.2L1506.6 353.4L1507.9 352.6L1509.1 351.8L1510.4 351.0L1511.7 350.2L1512.9 349.4L1514.2 348.6L1515.5 347.8L1516.7 347.0L1518.0 346.2L1519.3 345.4L1520.6 344.7L1521.9 343.9L1523.1 343.1L1524.4 342.3L1525.7 341.5L1527.0 340.8L1528.3 340.0L1529.6 339.2L1530.9 338.5L1532.2 337.7L1533.5 337.0L1534.8 336.2L1536.0 335.4L1537.3 334.7L1538.6 334.0L1540.0 333.2L1541.3 332.5L1542.6 331.7L1543.9 331.0L1545.2 330.3L1546.5 329.5L1547.8 328.8L1549.1 328.1L1550.4 327.3L1551.7 326.6L1553.1 325.9L1554.4 325.2L1555.7 324.5L1557.0 323.8L1558.3 323.1L1559.7 322.4L1561.0 321.7L1562.3 321.0L1563.6 320.3L1565.0 319.6L1566.3 318.9L1567.6 318.2L1569.0 317.5L1570.3 316.8L1571.7 316.2L1573.0 315.5L1574.3 314.8L1575.7 314.1L1577.0 313.5L1578.4 312.8L1579.7 312.1L1581.1 311.5L1582.4 310.8L1583.8 310.2L1585.1 309.5L1586.5 308.9L1587.8 308.2L1589.2 307.6L1590.5 306.9L1591.9 306.3L1593.2 305.7L1594.6 305.0L1596.0 304.4L1597.3 303.8L1598.7 303.2L1600.1 302.6L1601.4 301.9L1602.8 301.3L1604.2 300.7L1605.6 300.1L1606.9 299.5L1608.3 298.9L1609.7 298.3L1611.1 297.7L1612.4 297.1L1613.8 296.5L1615.2 295.9L1616.6 295.3L1618.0 294.7L1619.3 294.2L1620.7 293.6L1622.1 293.0L1623.5 292.4L1624.9 291.8L1626.3 291.3L1627.7 290.7L1629.1 290.1L1630.5 289.6L1631.9 289.0L1633.3 288.5L1634.7 287.9L1636.1 287.4L1637.5 286.8L1638.9 286.3L1640.3 285.7L1641.7 285.2L1643.1 284.6L1644.5 284.1L1645.9 283.6L1647.3 283.0L1648.7 282.5L1650.1 282.0L1651.5 281.4L1652.9 280.9L1654.3 280.4L1655.7 279.9L1657.2 279.3L1658.6 278.8L1660.0 278.3L1661.4 277.8L1662.8 277.3L1664.2 276.8L1665.7 276.3L1667.1 275.8L1668.5 275.3L1669.9 274.8L1671.3 274.3L1672.8 273.8L1674.2 273.3L1675.6 272.8L1677.0 272.3L1678.5 271.8L1679.9 271.4L1681.3 270.9L1682.8 270.4L1684.2 269.9L1685.6 269.5L1687.1 269.0L1688.5 268.5L1689.9 268.0L1691.4 267.6L1692.8 267.1L1694.2 266.6L1695.7 266.2L1697.1 265.7L1698.5 265.3L1700.0 264.8L1701.4 264.4L1702.9 263.9L1704.3 263.5L1705.7 263.0L1707.2 262.6L1708.6 262.1L1710.1 261.7L1711.5 261.2L1712.9 260.8L1714.4 260.4L1715.8 259.9L1717.3 259.5L1718.7 259.1L1720.2 258.6L1721.6 258.2L1723.1 257.8L1724.5 257.4L1726.0 256.9L1727.4 256.5L1728.9 256.1L1730.3 255.7L1731.8 255.3L1733.2 254.9L1734.7 254.4L1736.1 254.0L1737.6 253.6L1739.0 253.2L1740.5 252.8L1741.9 252.4L1743.4 252.0L1744.9 251.6L1746.3 251.2L1747.8 250.8L1749.2 250.4L1750.7 250.0L1752.1 249.6L1753.6 249.2L1755.1 248.8L1756.5 248.5L1758.0 248.1L1759.4 247.7L1760.9 247.3L1762.3 246.9L1763.8 246.5L1765.3 246.2L1766.7 245.8L1768.2 245.4L1769.7 245.0L1771.1 244.7L1772.6 244.3L1774.0 243.9L1775.5 243.5L1777.0 243.2L1778.4 242.8L1779.9 242.4L1781.3 242.1L1782.8 241.7L1784.3 241.4L1785.7 241.0L1787.2 240.6L1788.7 240.3L1790.1 239.9L1791.6 239.6L1793.1 239.2L1794.5 238.9L1796.0 238.5L1797.4 238.2L1798.9 237.8L1800.4 237.5L1801.8 237.1L1803.3 236.8L1804.8 236.4L1806.2 236.1L1807.7 235.7L1809.2 235.4L1810.6 235.1L1812.1 234.7L1813.6 234.4L1815.0 234.0L1816.5 233.7L1818.0 233.4L1819.4 233.0L1820.9 232.7L1822.4 232.4L1823.8 232.0L1825.3 231.7L1826.8 231.4L1828.2 231.1L1829.7 230.7L1831.2 230.4L1832.6 230.1L1834.1 229.8L1835.6 229.5L1837.0 229.1L1838.5 228.8L1840.0 228.5L1841.4 228.2L1842.9 227.9L1844.4 227.6L1845.8 227.2L1847.3 226.9L1848.8 226.6L1850.2 226.3L1851.7 226.0L1853.2 225.7L1854.7 225.4L1856.1 225.1L1857.6 224.8L1859.1 224.5L1860.5 224.2L1862.0 223.9L1863.5 223.6L1864.9 223.3L1866.4 223.0L1867.9 222.7L1869.4 222.4L1870.8 222.1L1872.3 221.8L1873.8 221.5L1875.2 221.3L1876.7 221.0L1878.2 220.7L1879.7 220.4L1881.1 220.1L1882.6 219.8L1884.1 219.6L1885.6 219.3L1887.0 219.0L1888.5 218.7L1890.0 218.4L1891.5 218.2L1892.9 217.9L1894.4 217.6L1895.9 217.4L1897.4 217.1L1898.8 216.8L1900.3 216.5L1901.8 216.3L1903.3 216.0L1904.8 215.7L1906.2 215.5L1907.7 215.2L1909.2 215.0L1910.7 214.7L1912.1 214.4L1913.6 214.2L1915.1 213.9L1916.6 213.7L1918.1 213.4L1919.5 213.2L1921.0 212.9L1922.5 212.7L1924.0 212.4L1925.5 212.2L1927.0 211.9L1928.4 211.7L1929.9 211.4L1931.4 211.2L1932.9 210.9L1934.4 210.7L1935.9 210.5L1937.3 210.2L1938.8 210.0L1940.3 209.7L1941.8 209.5L1943.3 209.3L1944.8 209.0L1946.2 208.8L1947.7 208.6L1949.2 208.4L1950.7 208.1L1952.2 207.9L1953.7 207.7L1955.2 207.4L1956.7 207.2L1958.2 207.0L1959.6 206.8L1961.1 206.6L1962.6 206.3L1964.1 206.1L1965.6 205.9L1967.1 205.7L1968.6 205.5L1970.1 205.3L1971.6 205.0L1973.1 204.8L1974.6 204.6L1976.0 204.4L1977.5 204.2L1979.0 204.0L1980.5 203.8L1982.0 203.6L1983.5 203.4L1985.0 203.2L1986.5 203.0L1988.0 202.8L1989.5 202.6L1991.0 202.4L1992.5 202.2L1994.0 202.0" fill="none" stroke="#4472c4" stroke-width="5.2" stroke-linecap="round" stroke-linejoin="round" stroke-dasharray="33.8 26.4" stroke-dashoffset="1.05"/>
<path d="M1216.0 550.0L1217.1 549.0L1218.2 547.9L1219.2 546.9L1220.3 545.8L1221.4 544.7L1222.4 543.7L1223.5 542.6L1224.5 541.5L1225.5 540.4L1226.6 539.4L1227.6 538.3L1228.6 537.2L1229.7 536.1L1230.7 535.0L1231.7 533.9L1232.7 532.8L1233.7 531.7L1234.7 530.6L1235.7 529.5L1236.7 528.3L1237.7 527.2L1238.7 526.1L1239.7 525.0L1240.6 523.8L1241.6 522.7L1242.6 521.6L1243.6 520.4L1244.5 519.3L1245.5 518.2L1246.4 517.0L1247.4 515.9L1248.4 514.7L1249.3 513.5L1250.2 512.4L1251.2 511.2L1252.1 510.1L1253.1 508.9L1254.0 507.7L1254.9 506.6L1255.9 505.4L1256.8 504.2L1257.7 503.0L1258.6 501.9L1259.5 500.7L1260.5 499.5L1261.4 498.3L1262.3 497.1L1263.2 495.9L1264.1 494.7L1265.0 493.5L1265.9 492.3L1266.8 491.1L1267.7 489.9L1268.6 488.7L1269.5 487.5L1270.4 486.3L1271.3 485.1L1272.2 483.9L1273.1 482.7L1273.9 481.5L1274.8 480.3L1275.7 479.1L1276.6 477.9L1277.5 476.7L1278.4 475.4L1279.2 474.2L1280.1 473.0L1281.0 471.8L1281.9 470.6L1282.7 469.3L1283.6 468.1L1284.5 466.9L1285.4 465.7L1286.2 464.5L1287.1 463.2L1288.0 462.0L1288.8 460.8L1289.7 459.5L1290.6 458.3L1291.4 457.1L1292.3 455.9L1293.2 454.6L1294.0 453.4L1294.9 452.2L1295.8 450.9L1296.6 449.7L1297.5 448.5L1298.4 447.3L1299.2 446.0L1300.1 444.8L1301.0 443.6L1301.8 442.3L1302.7 441.1L1303.6 439.9L1304.5 438.6L1305.3 437.4L1306.2 436.2L1307.1 434.9L1307.9 433.7L1308.8 432.5L1309.7 431.2L1310.5 430.0L1311.4 428.8L1312.3 427.6L1313.1 426.3L1314.0 425.1L1314.9 423.9L1315.8 422.6L1316.6 421.4L1317.5 420.2L1318.4 419.0L1319.3 417.7L1320.2 416.5L1321.0 415.3L1321.9 414.1L1322.8 412.9L1323.7 411.6L1324.6 410.4L1325.5 409.2L1326.3 408.0L1327.2 406.8L1328.1 405.5L1329.0 404.3L1329.9 403.1L1330.8 401.9L1331.7 400.7L1332.6 399.5L1333.5 398.3L1334.4 397.1L1335.3 395.9L1336.2 394.7L1337.1 393.5L1338.0 392.3L1338.9 391.1L1339.8 389.9L1340.8 388.7L1341.7 387.5L1342.6 386.3L1343.5 385.1L1344.4 383.9L1345.4 382.7L1346.3 381.5L1347.2 380.3L1348.1 379.2L1349.1 378.0L1350.0 376.8L1351.0 375.6L1351.9 374.5L1352.8 373.3L1353.8 372.1L1354.7 370.9L1355.7 369.8L1356.6 368.6L1357.6 367.5L1358.6 366.3L1359.5 365.1L1360.5 364.0L1361.5 362.8L1362.4 361.7L1363.4 360.5L1364.4 359.4L1365.4 358.3L1366.4 357.1L1367.3 356.0L1368.3 354.9L1369.3 353.7L1370.3 352.6L1371.3 351.5L1372.3 350.3L1373.3 349.2L1374.3 348.1L1375.3 347.0L1376.3 345.9L1377.3 344.8L1378.4 343.7L1379.4 342.5L1380.4 341.4L1381.4 340.3L1382.5 339.3L1383.5 338.2L1384.5 337.1L1385.6 336.0L1386.6 334.9L1387.6 333.8L1388.7 332.7L1389.7 331.7L1390.8 330.6L1391.8 329.5L1392.9 328.4L1394.0 327.4L1395.0 326.3L1396.1 325.3L1397.2 324.2L1398.2 323.1L1399.3 322.1L1400.4 321.0L1401.5 320.0L1402.5 319.0L1403.6 317.9L1404.7 316.9L1405.8 315.9L1406.9 314.8L1408.0 313.8L1409.1 312.8L1410.2 311.8L1411.3 310.8L1412.4 309.7L1413.5 308.7L1414.6 307.7L1415.8 306.7L1416.9 305.7L1418.0 304.7L1419.1 303.7L1420.3 302.8L1421.4 301.8L1422.5 300.8L1423.7 299.8L1424.8 298.8L1426.0 297.9L1427.1 296.9L1428.3 295.9L1429.4 295.0L1430.6 294.0L1431.7 293.1L1432.9 292.1L1434.1 291.2L1435.2 290.2L1436.4 289.3L1437.6 288.4L1438.8 287.5L1440.0 286.5L1441.1 285.6L1442.3 284.7L1443.5 283.8L1444.7 282.9L1445.9 282.0L1447.1 281.1L1448.3 280.2L1449.5 279.3L1450.7 278.4L1451.9 277.5L1453.2 276.6L1454.4 275.7L1455.6 274.8L1456.8 274.0L1458.0 273.1L1459.3 272.2L1460.5 271.4L1461.7 270.5L1463.0 269.7L1464.2 268.8L1465.5 268.0L1466.7 267.1L1468.0 266.3L1469.2 265.5L1470.5 264.6L1471.7 263.8L1473.0 263.0L1474.2 262.1L1475.5 261.3L1476.8 260.5L1478.0 259.7L1479.3 258.9L1480.6 258.1L1481.9 257.3L1483.1 256.5L1484.4 255.7L1485.7 254.9L1487.0 254.1L1488.3 253.4L1489.6 252.6L1490.8 251.8L1492.1 251.0L1493.4 250.3L1494.7 249.5L1496.0 248.7L1497.3 248.0L1498.6 247.2L1499.9 246.5L1501.2 245.7L1502.6 245.0L1503.9 244.3L1505.2 243.5L1506.5 242.8L1507.8 242.1L1509.1 241.3L1510.5 240.6L1511.8 239.9L1513.1 239.2L1514.4 238.5L1515.8 237.8L1517.1 237.1L1518.4 236.4L1519.8 235.7L1521.1 235.0L1522.4 234.3L1523.8 233.6L1525.1 232.9L1526.4 232.2L1527.8 231.5L1529.1 230.9L1530.5 230.2L1531.8 229.5L1533.2 228.8L1534.5 228.2L1535.9 227.5L1537.2 226.9L1538.6 226.2L1539.9 225.6L1541.3 224.9L1542.7 224.3L1544.0 223.6L1545.4 223.0L1546.7 222.4L1548.1 221.7L1549.5 221.1L1550.8 220.5L1552.2 219.9L1553.6 219.2L1554.9 218.6L1556.3 218.0L1557.7 217.4L1559.1 216.8L1560.4 216.2L1561.8 215.6L1563.2 215.0L1564.6 214.4L1565.9 213.8L1567.3 213.2L1568.7 212.7L1570.1 212.1L1571.5 211.5L1572.9 210.9L1574.2 210.3L1575.6 209.8L1577.0 209.2L1578.4 208.6L1579.8 208.1L1581.2 207.5L1582.6 207.0L1584.0 206.4L1585.4 205.9L1586.8 205.3L1588.2 204.8L1589.6 204.2L1591.0 203.7L1592.4 203.2L1593.8 202.6L1595.2 202.1L1596.6 201.6L1598.0 201.1L1599.4 200.5L1600.8 200.0L1602.2 199.5L1603.6 199.0L1605.0 198.5L1606.4 198.0L1607.8 197.5L1609.2 197.0L1610.7 196.5L1612.1 196.0L1613.5 195.5L1614.9 195.0L1616.3 194.5L1617.7 194.0L1619.1 193.5L1620.6 193.0L1622.0 192.6L1623.4 192.1L1624.8 191.6L1626.3 191.1L1627.7 190.7L1629.1 190.2L1630.5 189.7L1632.0 189.3L1633.4 188.8L1634.8 188.4L1636.2 187.9L1637.7 187.5L1639.1 187.0L1640.5 186.6L1642.0 186.1L1643.4 185.7L1644.8 185.3L1646.3 184.8L1647.7 184.4L1649.1 184.0L1650.6 183.5L1652.0 183.1L1653.5 182.7L1654.9 182.3L1656.3 181.8L1657.8 181.4L1659.2 181.0L1660.7 180.6L1662.1 180.2L1663.6 179.8L1665.0 179.4L1666.4 179.0L1667.9 178.6L1669.3 178.2L1670.8 177.8L1672.2 177.4L1673.7 177.0L1675.1 176.6L1676.6 176.2L1678.0 175.8L1679.5 175.4L1681.0 175.1L1682.4 174.7L1683.9 174.3L1685.3 173.9L1686.8 173.6L1688.2 173.2L1689.7 172.8L1691.1 172.5L1692.6 172.1L1694.1 171.7L1695.5 171.4L1697.0 171.0L1698.4 170.7L1699.9 170.3L1701.4 169.9L1702.8 169.6L1704.3 169.2L1705.8 168.9L1707.2 168.6L1708.7 168.2L1710.2 167.9L1711.6 167.5L1713.1 167.2L1714.6 166.9L1716.0 166.5L1717.5 166.2L1719.0 165.9L1720.4 165.5L1721.9 165.2L1723.4 164.9L1724.9 164.6L1726.3 164.3L1727.8 163.9L1729.3 163.6L1730.7 163.3L1732.2 163.0L1733.7 162.7L1735.2 162.4L1736.6 162.1L1738.1 161.8L1739.6 161.5L1741.1 161.2L1742.6 160.9L1744.0 160.6L1745.5 160.3L1747.0 160.0L1748.5 159.7L1750.0 159.4L1751.4 159.1L1752.9 158.8L1754.4 158.5L1755.9 158.2L1757.4 158.0L1758.8 157.7L1760.3 157.4L1761.8 157.1L1763.3 156.8L1764.8 156.6L1766.3 156.3L1767.7 156.0L1769.2 155.7L1770.7 155.5L1772.2 155.2L1773.7 154.9L1775.2 154.7L1776.7 154.4L1778.2 154.2L1779.6 153.9L1781.1 153.6L1782.6 153.4L1784.1 153.1L1785.6 152.9L1787.1 152.6L1788.6 152.4L1790.1 152.1L1791.6 151.9L1793.0 151.6L1794.5 151.4L1796.0 151.1L1797.5 150.9L1799.0 150.6L1800.5 150.4L1802.0 150.1L1803.5 149.9L1805.0 149.7L1806.5 149.4L1808.0 149.2L1809.5 149.0L1810.9 148.7L1812.4 148.5L1813.9 148.3L1815.4 148.0L1816.9 147.8L1818.4 147.6L1819.9 147.4L1821.4 147.1L1822.9 146.9L1824.4 146.7L1825.9 146.5L1827.4 146.3L1828.9 146.0L1830.4 145.8L1831.9 145.6L1833.4 145.4L1834.9 145.2L1836.4 145.0L1837.9 144.7L1839.4 144.5L1840.8 144.3L1842.3 144.1L1843.8 143.9L1845.3 143.7L1846.8 143.5L1848.3 143.3L1849.8 143.1L1851.3 142.9L1852.8 142.7L1854.3 142.5L1855.8 142.3L1857.3 142.1L1858.8 141.9L1860.3 141.7L1861.8 141.5L1863.3 141.3L1864.8 141.1L1866.3 140.9L1867.8 140.7L1869.3 140.5L1870.8 140.3L1872.3 140.1L1873.8 139.9L1875.3 139.7L1876.8 139.5L1878.3 139.4L1879.8 139.2L1881.3 139.0L1882.8 138.8L1884.3 138.6L1885.8 138.4L1887.3 138.2L1888.8 138.0L1890.2 137.9L1891.7 137.7L1893.2 137.5L1894.7 137.3L1896.2 137.1L1897.7 137.0L1899.2 136.8L1900.7 136.6L1902.2 136.4L1903.7 136.2L1905.2 136.1L1906.7 135.9L1908.2 135.7L1909.7 135.5L1911.2 135.4L1912.7 135.2L1914.2 135.0L1915.7 134.8L1917.2 134.7L1918.7 134.5L1920.2 134.3L1921.6 134.2L1923.1 134.0L1924.6 133.8L1926.1 133.6L1927.6 133.5L1929.1 133.3L1930.6 133.1L1932.1 133.0L1933.6 132.8L1935.1 132.6L1936.6 132.5L1938.1 132.3L1939.6 132.1L1941.0 132.0L1942.5 131.8L1944.0 131.6L1945.5 131.5L1947.0 131.3L1948.5 131.1L1950.0 131.0L1951.5 130.8L1953.0 130.6L1954.4 130.5L1955.9 130.3L1957.4 130.1L1958.9 130.0L1960.4 129.8L1961.9 129.6L1963.4 129.5L1964.9 129.3L1966.3 129.1L1967.8 129.0L1969.3 128.8L1970.8 128.7L1972.3 128.5L1973.8 128.3L1975.2 128.2L1976.7 128.0L1978.2 127.8L1979.7 127.7L1981.2 127.5L1982.6 127.3L1984.1 127.2L1985.6 127.0L1987.1 126.9L1988.6 126.7L1990.0 126.5L1991.5 126.4L1993.0 126.2" fill="none" stroke="#70ad47" stroke-width="5.0" stroke-linecap="round" stroke-linejoin="round" stroke-dasharray="13 23.74 0.01 23.75" stroke-dashoffset="14.73"/>
<path d="M1201.8 550.0L1215.0 549.8L1215.6 548.5L1216.1 547.1L1216.6 545.7L1217.0 544.3L1217.4 542.9L1217.8 541.4L1218.1 540.0L1218.4 538.5L1218.7 537.1L1218.9 535.6L1219.1 534.1L1219.3 532.5L1219.5 531.0L1219.7 529.5L1219.8 528.0L1220.0 526.4L1220.1 524.9L1220.3 523.3L1220.4 521.8L1220.6 520.2L1220.7 518.7L1220.9 517.1L1221.1 515.6L1221.3 514.0L1221.6 512.5L1221.8 511.0L1222.1 509.4L1222.4 507.9L1222.8 506.4L1223.2 504.9L1223.6 503.4L1224.1 502.0L1224.6 500.5L1225.1 499.1L1225.7 497.7L1226.4 496.4L1227.0 495.0L1227.8 493.8L1228.6 492.5L1229.4 491.3L1230.3 490.2L1231.3 489.1L1232.3 488.0L1233.3 487.0L1234.4 486.0L1235.6 485.1L1236.8 484.2L1238.0 483.4L1239.3 482.6L1240.6 481.9L1241.9 481.2L1243.2 480.5L1244.6 479.9L1245.9 479.3L1247.3 478.7L1248.7 478.2L1250.1 477.6L1251.5 477.2L1252.9 476.7L1254.3 476.3L1255.8 475.9L1257.2 475.6L1258.7 475.2L1260.2 474.9L1261.6 474.6L1263.1 474.4L1264.6 474.1L1266.1 473.9L1267.6 473.7L1269.1 473.5L1270.6 473.4L1272.2 473.2L1273.7 473.1L1275.2 473.0L1276.8 472.9L1278.3 472.8L1279.8 472.7L1281.4 472.6L1282.9 472.6L1284.5 472.5L1286.0 472.5L1287.6 472.4L1289.1 472.4L1290.7 472.4L1292.2 472.4L1293.8 472.4L1295.4 472.4L1296.9 472.3L1298.5 472.3L1300.0 472.3L1301.6 472.3L1303.1 472.3L1304.6 472.3L1306.2 472.3L1307.7 472.2L1309.2 472.2L1310.8 472.2L1312.3 472.1L1313.8 472.1L1315.3 472.1L1316.8 472.0L1318.4 472.0L1319.9 471.9L1321.4 471.9L1322.9 471.8L1324.4 471.8L1325.9 471.7L1327.4 471.7L1328.9 471.6L1330.4 471.6L1331.9 471.5L1333.4 471.5L1334.9 471.4L1336.4 471.3L1337.9 471.3L1339.4 471.2L1340.9 471.2L1342.4 471.1L1343.9 471.1L1345.4 471.0L1346.9 471.0L1348.4 470.9L1349.9 470.8L1351.4 470.8L1352.9 470.7L1354.4 470.7L1355.9 470.6L1357.4 470.6L1358.9 470.5L1360.4 470.5L1361.9 470.5L1363.4 470.4L1364.9 470.4L1366.4 470.4L1367.9 470.3L1369.4 470.3L1370.9 470.3L1372.4 470.2L1373.9 470.2L1375.4 470.2L1376.9 470.2L1378.5 470.2L1380.0 470.2L1381.5 470.2L1383.0 470.2L1384.6 470.2L1386.1 470.2L1387.6 470.2L1389.2 470.2L1390.7 470.2L1392.2 470.3L1393.8 470.3L1395.3 470.4L1396.9 470.4L1398.4 470.4L1400.0 470.5L1600.0 470.3L1994.6 470.1" fill="none" stroke="#ff0000" stroke-width="5.5" stroke-linecap="round" stroke-linejoin="round" stroke-dasharray="14.5 23.95" stroke-dashoffset="38.04"/>
</g>
<text x="1154.67" y="559.21" font-size="30.00" stroke="#000" stroke-width="0.35" textLength="16.69" lengthAdjust="spacingAndGlyphs">0</text>
<text x="1138.03" y="501.23" font-size="30.00" stroke="#000" stroke-width="0.35" textLength="33.37" lengthAdjust="spacingAndGlyphs">50</text>
<text x="1121.30" y="443.25" font-size="30.00" stroke="#000" stroke-width="0.35" textLength="50.06" lengthAdjust="spacingAndGlyphs">100</text>
<text x="1121.30" y="385.27" font-size="30.00" stroke="#000" stroke-width="0.35" textLength="50.06" lengthAdjust="spacingAndGlyphs">150</text>
<text x="1121.30" y="327.29" font-size="30.00" stroke="#000" stroke-width="0.35" textLength="50.06" lengthAdjust="spacingAndGlyphs">200</text>
<text x="1121.30" y="269.31" font-size="30.00" stroke="#000" stroke-width="0.35" textLength="50.06" lengthAdjust="spacingAndGlyphs">250</text>
<text x="1121.30" y="211.33" font-size="30.00" stroke="#000" stroke-width="0.35" textLength="50.06" lengthAdjust="spacingAndGlyphs">300</text>
<text x="1121.30" y="153.35" font-size="30.00" stroke="#000" stroke-width="0.35" textLength="50.06" lengthAdjust="spacingAndGlyphs">350</text>
<text x="1121.30" y="95.37" font-size="30.00" stroke="#000" stroke-width="0.35" textLength="50.06" lengthAdjust="spacingAndGlyphs">400</text>
<text x="1121.30" y="37.39" font-size="30.00" stroke="#000" stroke-width="0.35" textLength="50.06" lengthAdjust="spacingAndGlyphs">450</text>
<text x="1192.60" y="602.30" font-size="30.00" stroke="#000" stroke-width="0.35" textLength="16.35" lengthAdjust="spacingAndGlyphs">0</text>
<text x="1411.10" y="602.30" font-size="30.00" stroke="#000" stroke-width="0.35" textLength="32.70" lengthAdjust="spacingAndGlyphs">20</text>
<text x="1638.30" y="602.30" font-size="30.00" stroke="#000" stroke-width="0.35" textLength="32.70" lengthAdjust="spacingAndGlyphs">40</text>
<text x="1864.70" y="602.30" font-size="30.00" stroke="#000" stroke-width="0.35" textLength="32.70" lengthAdjust="spacingAndGlyphs">60</text>
<text transform="translate(1088.70,325.30) rotate(-90)" x="0" y="0" font-size="32.30" font-weight="bold" textLength="101.85" lengthAdjust="spacingAndGlyphs">Heat, J</text>
<text x="1571.3" y="657.6" font-weight="bold" font-size="34.5" textLength="50.2" lengthAdjust="spacingAndGlyphs"><tspan font-style="italic">t</tspan>, h</text>
<text x="1074.52" y="647.00" font-size="40.60" font-weight="bold" textLength="36.04" lengthAdjust="spacingAndGlyphs">b)</text>
<line x1="1266.5" y1="69.6" x2="1357" y2="69.6" stroke="#4472c4" stroke-width="5.4" stroke-linecap="round" stroke-dasharray="37.2 23"/>
<line x1="1266.2" y1="111.5" x2="1343.1" y2="111.5" stroke="#70ad47" stroke-width="4.8" stroke-linecap="round" stroke-dasharray="15.4 23.2 0.01 22.4"/>
<line x1="1266.5" y1="152.4" x2="1357" y2="152.4" stroke="#ff0000" stroke-width="5.4" stroke-linecap="round" stroke-dasharray="16 22.5"/>
<text x="1367.28" y="79.20" font-size="30.30" stroke="#000" stroke-width="0.85" textLength="29.04" lengthAdjust="spacingAndGlyphs">SF</text>
<text x="1367.70" y="120.70" font-size="30.30" stroke="#000" stroke-width="0.74" textLength="34.75" lengthAdjust="spacingAndGlyphs">CC</text>
<text x="1367.64" y="162.50" font-size="30.30" stroke="#000" stroke-width="0.36" textLength="44.53" lengthAdjust="spacingAndGlyphs">RM</text>
</g>
</svg>
</body></html>
